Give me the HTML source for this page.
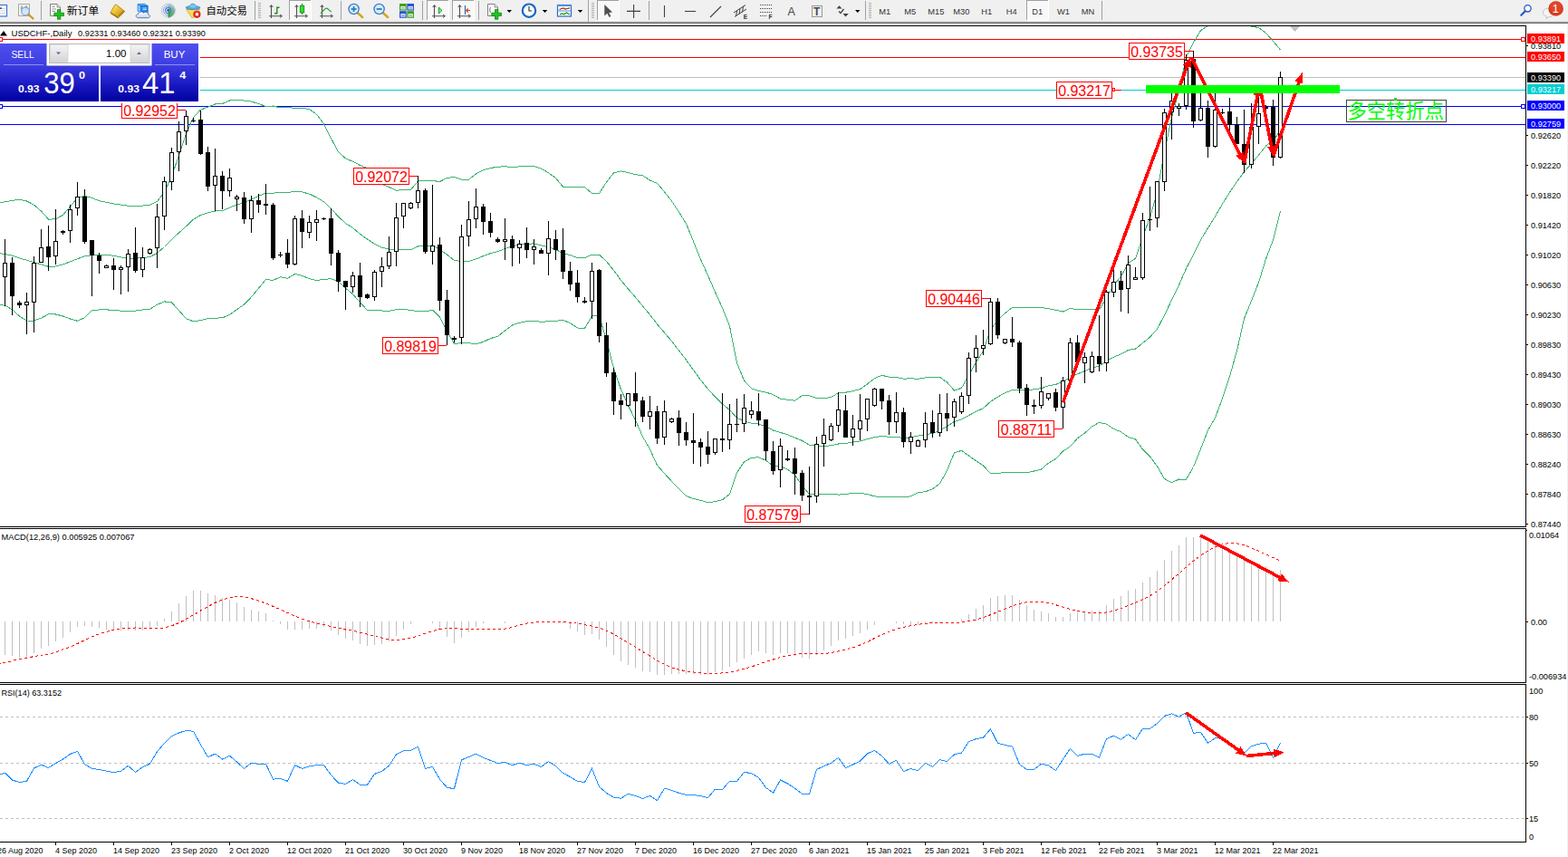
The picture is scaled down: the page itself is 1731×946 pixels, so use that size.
<!DOCTYPE html>
<html><head><meta charset="utf-8"><title>USDCHF Daily</title>
<style>html,body{margin:0;padding:0;background:#fff;}body{width:1731px;height:946px;overflow:hidden;font-family:"Liberation Sans",sans-serif;}svg{display:block}text{font-family:"Liberation Sans",sans-serif;}</style>
</head><body>
<svg width="1731" height="946" viewBox="0 0 1731 946">
<rect x="0" y="0" width="1731" height="946" fill="#ffffff"/>
<g shape-rendering="crispEdges">
<rect x="0" y="28" width="1685" height="1" fill="#000" />
<rect x="1684" y="28" width="1" height="554" fill="#000" />
<rect x="0" y="581" width="1685" height="1" fill="#000" />
<rect x="0" y="583" width="1685" height="1" fill="#000" />
<rect x="1684" y="583" width="1" height="171" fill="#000" />
<rect x="0" y="753" width="1685" height="1" fill="#000" />
<rect x="0" y="755" width="1685" height="1" fill="#000" />
<rect x="1684" y="755" width="1" height="175" fill="#000" />
<rect x="0" y="929" width="1685" height="1" fill="#000" />
<rect x="1730" y="26" width="1" height="920" fill="#f0f0f0" />
</g>
<defs><clipPath id="cm"><rect x="0" y="29" width="1684" height="552"/></clipPath><clipPath id="c2"><rect x="0" y="584" width="1684" height="169"/></clipPath><clipPath id="c3"><rect x="0" y="756" width="1684" height="173"/></clipPath></defs>
<g shape-rendering="crispEdges">
<rect x="0" y="43" width="1684" height="1" fill="#ff0000" />
<rect x="0" y="63" width="1684" height="1" fill="#ff0000" />
<rect x="0" y="85" width="1684" height="1" fill="#c0c0c0" />
<rect x="0" y="99" width="1684" height="1" fill="#00ced1" />
<rect x="0" y="117" width="1684" height="1" fill="#0000ff" />
<rect x="0" y="137" width="1684" height="1" fill="#0000ff" />
</g>
<g clip-path="url(#cm)" shape-rendering="crispEdges">
<polyline points="-2.5,223.7 5.5,222.8 13.5,221.4 21.5,220.1 29.5,222.0 37.5,226.1 45.5,233.1 53.5,242.1 61.5,241.9 69.5,237.4 77.5,228.0 85.5,218.4 93.5,216.3 101.5,218.5 109.5,221.6 117.5,223.4 125.5,224.9 133.5,226.1 141.5,227.2 149.5,227.4 157.5,227.1 165.5,226.3 173.5,222.4 181.5,212.2 189.5,194.7 197.5,171.4 205.5,147.9 213.5,129.7 221.5,121.1 229.5,118.2 237.5,115.0 245.5,114.4 253.5,111.0 261.5,110.2 269.5,111.1 277.5,112.1 285.5,114.5 293.5,117.5 301.5,117.0 309.5,119.0 317.5,118.1 325.5,119.8 333.5,119.3 341.5,120.6 349.5,126.2 357.5,136.8 365.5,152.7 373.5,167.8 381.5,174.9 389.5,178.2 397.5,182.5 405.5,185.8 413.5,196.0 421.5,203.3 429.5,206.6 437.5,210.1 445.5,209.8 453.5,209.4 461.5,200.0 469.5,199.9 477.5,199.4 485.5,200.6 493.5,196.3 501.5,195.6 509.5,198.1 517.5,198.2 525.5,192.0 533.5,187.8 541.5,185.5 549.5,184.2 557.5,183.8 565.5,184.5 573.5,183.9 581.5,183.6 589.5,183.4 597.5,186.2 605.5,190.8 613.5,196.5 621.5,206.2 629.5,206.5 637.5,206.9 645.5,206.7 653.5,213.4 661.5,213.6 669.5,201.0 677.5,190.8 685.5,188.9 693.5,190.6 701.5,192.6 709.5,193.8 717.5,199.0 725.5,202.3 733.5,211.8 741.5,221.9 749.5,234.1 757.5,246.9 765.5,266.5 773.5,286.5 781.5,304.0 789.5,322.4 797.5,340.1 805.5,359.9 813.5,400.5 821.5,420.1 829.5,428.8 837.5,431.5 845.5,433.1 853.5,435.5 861.5,440.2 869.5,441.2 877.5,442.2 885.5,436.7 893.5,436.7 901.5,439.7 909.5,440.0 917.5,438.4 925.5,433.8 933.5,433.2 941.5,431.7 949.5,429.7 957.5,423.9 965.5,417.6 973.5,414.3 981.5,416.2 989.5,416.5 997.5,418.2 1005.5,417.8 1013.5,418.3 1021.5,416.9 1029.5,416.8 1037.5,416.3 1045.5,422.1 1053.5,431.1 1061.5,428.3 1069.5,414.2 1077.5,399.8 1085.5,387.5 1093.5,363.7 1101.5,353.7 1109.5,345.8 1117.5,339.4 1125.5,339.4 1133.5,339.5 1141.5,339.7 1149.5,339.3 1157.5,340.8 1165.5,342.3 1173.5,344.0 1181.5,340.4 1189.5,341.8 1197.5,341.2 1205.5,341.7 1213.5,341.9 1221.5,328.7 1229.5,314.8 1237.5,305.2 1245.5,290.4 1253.5,285.4 1261.5,261.3 1269.5,240.3 1277.5,211.7 1285.5,167.5 1293.5,129.5 1301.5,100.3 1309.5,63.3 1317.5,47.0 1325.5,33.8 1333.5,28.3 1341.5,16.5 1349.5,10.3 1357.5,9.1 1365.5,14.1 1373.5,27.5 1381.5,29.0 1389.5,30.6 1397.5,36.4 1405.5,45.5 1413.5,54.9" fill="none" stroke="#3cb371" stroke-width="1" />
<polyline points="-2.5,279.5 5.5,280.4 13.5,282.2 21.5,284.9 29.5,287.2 37.5,289.5 45.5,291.9 53.5,294.3 61.5,294.0 69.5,291.8 77.5,288.9 85.5,285.7 93.5,282.9 101.5,281.6 109.5,281.4 117.5,281.3 125.5,282.3 133.5,284.0 141.5,285.0 149.5,285.3 157.5,284.5 165.5,283.7 173.5,279.4 181.5,272.5 189.5,264.3 197.5,257.0 205.5,249.8 213.5,242.2 221.5,237.4 229.5,234.9 237.5,233.0 245.5,232.7 253.5,229.2 261.5,225.9 269.5,223.6 277.5,220.0 285.5,216.4 293.5,213.0 301.5,213.2 309.5,212.3 317.5,212.7 325.5,211.1 333.5,211.9 341.5,214.1 349.5,217.9 357.5,222.7 365.5,230.2 373.5,239.1 381.5,246.5 389.5,251.5 397.5,258.2 405.5,264.1 413.5,269.3 421.5,273.1 429.5,275.0 437.5,275.9 445.5,275.8 453.5,275.7 461.5,272.0 469.5,271.9 477.5,270.8 485.5,275.4 493.5,281.1 501.5,287.5 509.5,288.4 517.5,288.5 525.5,285.9 533.5,282.6 541.5,279.6 549.5,277.7 557.5,274.5 565.5,271.7 573.5,270.1 581.5,269.2 589.5,268.9 597.5,270.8 605.5,272.8 613.5,275.4 621.5,279.8 629.5,281.6 637.5,284.5 645.5,284.6 653.5,281.0 661.5,281.0 669.5,288.5 677.5,298.5 685.5,309.4 693.5,318.9 701.5,328.2 709.5,337.9 717.5,347.4 725.5,357.9 733.5,367.2 741.5,376.6 749.5,386.9 757.5,397.2 765.5,408.5 773.5,419.4 781.5,429.5 789.5,438.0 797.5,445.9 805.5,452.6 813.5,461.1 821.5,465.0 829.5,467.1 837.5,468.1 845.5,470.7 853.5,475.0 861.5,477.4 869.5,479.8 877.5,483.2 885.5,486.4 893.5,491.1 901.5,492.5 909.5,492.6 917.5,491.8 925.5,490.0 933.5,489.4 941.5,488.0 949.5,487.0 957.5,484.7 965.5,482.7 973.5,481.4 981.5,482.3 989.5,482.4 997.5,483.6 1005.5,482.8 1013.5,481.1 1021.5,479.8 1029.5,478.4 1037.5,475.0 1045.5,470.7 1053.5,465.4 1061.5,462.8 1069.5,458.6 1077.5,454.3 1085.5,450.7 1093.5,443.3 1101.5,438.1 1109.5,433.6 1117.5,430.5 1125.5,430.5 1133.5,430.7 1141.5,429.8 1149.5,428.7 1157.5,425.9 1165.5,424.4 1173.5,421.1 1181.5,416.7 1189.5,412.8 1197.5,409.6 1205.5,406.2 1213.5,404.1 1221.5,398.4 1229.5,394.2 1237.5,390.9 1245.5,386.5 1253.5,385.1 1261.5,378.7 1269.5,372.1 1277.5,363.2 1285.5,348.0 1293.5,331.2 1301.5,314.6 1309.5,296.3 1317.5,281.3 1325.5,264.7 1333.5,251.8 1341.5,238.9 1349.5,225.1 1357.5,212.3 1365.5,200.6 1373.5,189.6 1381.5,180.5 1389.5,171.2 1397.5,161.1 1405.5,155.2 1413.5,144.2" fill="none" stroke="#3cb371" stroke-width="1" />
<polyline points="-2.5,336.0 5.5,337.3 13.5,341.6 21.5,349.1 29.5,354.0 37.5,354.1 45.5,351.1 53.5,346.8 61.5,347.0 69.5,349.0 77.5,352.0 85.5,354.3 93.5,350.6 101.5,342.7 109.5,342.0 117.5,341.8 125.5,342.6 133.5,343.1 141.5,343.3 149.5,343.1 157.5,341.9 165.5,341.2 173.5,336.3 181.5,332.9 189.5,333.8 197.5,342.7 205.5,351.7 213.5,354.8 221.5,353.7 229.5,351.6 237.5,351.1 245.5,350.9 253.5,347.4 261.5,341.6 269.5,336.1 277.5,327.8 285.5,318.3 293.5,308.4 301.5,309.4 309.5,305.7 317.5,307.3 325.5,302.3 333.5,304.4 341.5,307.6 349.5,309.5 357.5,308.5 365.5,307.7 373.5,310.4 381.5,318.1 389.5,324.7 397.5,333.8 405.5,342.4 413.5,342.5 421.5,343.0 429.5,343.3 437.5,341.7 445.5,341.9 453.5,342.1 461.5,344.0 469.5,343.9 477.5,342.2 485.5,350.1 493.5,365.8 501.5,379.3 509.5,378.8 517.5,378.7 525.5,379.8 533.5,377.4 541.5,373.6 549.5,371.2 557.5,365.1 565.5,358.9 573.5,356.3 581.5,354.8 589.5,354.3 597.5,355.4 605.5,354.7 613.5,354.3 621.5,353.4 629.5,356.6 637.5,362.0 645.5,362.5 653.5,348.7 661.5,348.3 669.5,376.0 677.5,406.2 685.5,430.0 693.5,447.3 701.5,463.9 709.5,482.0 717.5,495.9 725.5,513.6 733.5,522.6 741.5,531.3 749.5,539.6 757.5,547.5 765.5,550.5 773.5,552.3 781.5,554.9 789.5,553.6 797.5,551.7 805.5,545.4 813.5,521.6 821.5,509.9 829.5,505.3 837.5,504.8 845.5,508.3 853.5,514.4 861.5,514.6 869.5,518.3 877.5,524.2 885.5,536.0 893.5,545.5 901.5,545.2 909.5,545.2 917.5,545.3 925.5,546.1 933.5,545.6 941.5,544.3 949.5,544.3 957.5,545.5 965.5,547.9 973.5,548.6 981.5,548.3 989.5,548.2 997.5,549.0 1005.5,547.8 1013.5,543.9 1021.5,542.7 1029.5,539.9 1037.5,533.8 1045.5,519.4 1053.5,499.8 1061.5,497.4 1069.5,503.0 1077.5,508.8 1085.5,513.9 1093.5,522.8 1101.5,522.4 1109.5,521.5 1117.5,521.6 1125.5,521.5 1133.5,521.9 1141.5,520.0 1149.5,518.1 1157.5,511.1 1165.5,506.5 1173.5,498.1 1181.5,492.9 1189.5,483.7 1197.5,478.1 1205.5,470.7 1213.5,466.4 1221.5,468.1 1229.5,473.5 1237.5,476.7 1245.5,482.5 1253.5,484.8 1261.5,496.2 1269.5,503.9 1277.5,514.7 1285.5,528.5 1293.5,532.9 1301.5,529.0 1309.5,529.2 1317.5,515.5 1325.5,495.6 1333.5,475.2 1341.5,461.3 1349.5,439.9 1357.5,415.5 1365.5,387.1 1373.5,351.8 1381.5,332.0 1389.5,311.8 1397.5,285.8 1405.5,264.9 1413.5,233.4" fill="none" stroke="#3cb371" stroke-width="1" />
</g>
<g shape-rendering="crispEdges" clip-path="url(#cm)">
<rect x="5" y="264" width="1" height="74" fill="#000" />
<rect x="3" y="290" width="5" height="16" fill="#000" />
<rect x="4" y="291" width="3" height="14" fill="#fff" />
<rect x="13" y="284" width="1" height="64" fill="#000" />
<rect x="11" y="290" width="5" height="37" fill="#000" />
<rect x="21" y="332" width="1" height="8" fill="#000" />
<rect x="19" y="334" width="5" height="3" fill="#000" />
<rect x="29" y="323" width="1" height="46" fill="#000" />
<rect x="27" y="333" width="5" height="4" fill="#000" />
<rect x="28" y="334" width="3" height="2" fill="#fff" />
<rect x="37" y="283" width="1" height="84" fill="#000" />
<rect x="35" y="290" width="5" height="44" fill="#000" />
<rect x="36" y="291" width="3" height="42" fill="#fff" />
<rect x="45" y="253" width="1" height="37" fill="#000" />
<rect x="43" y="273" width="5" height="17" fill="#000" />
<rect x="44" y="274" width="3" height="15" fill="#fff" />
<rect x="53" y="249" width="1" height="50" fill="#000" />
<rect x="51" y="272" width="5" height="12" fill="#000" />
<rect x="61" y="231" width="1" height="61" fill="#000" />
<rect x="59" y="266" width="5" height="17" fill="#000" />
<rect x="60" y="267" width="3" height="15" fill="#fff" />
<rect x="69" y="254" width="1" height="5" fill="#000" />
<rect x="67" y="255" width="5" height="2" fill="#000" />
<rect x="77" y="226" width="1" height="42" fill="#000" />
<rect x="75" y="231" width="5" height="24" fill="#000" />
<rect x="76" y="232" width="3" height="22" fill="#fff" />
<rect x="85" y="201" width="1" height="37" fill="#000" />
<rect x="83" y="217" width="5" height="13" fill="#000" />
<rect x="84" y="218" width="3" height="11" fill="#fff" />
<rect x="93" y="209" width="1" height="60" fill="#000" />
<rect x="91" y="217" width="5" height="50" fill="#000" />
<rect x="101" y="265" width="1" height="62" fill="#000" />
<rect x="99" y="265" width="5" height="17" fill="#000" />
<rect x="109" y="279" width="1" height="23" fill="#000" />
<rect x="107" y="282" width="5" height="6" fill="#000" />
<rect x="117" y="292" width="1" height="4" fill="#000" />
<rect x="115" y="293" width="5" height="3" fill="#000" />
<rect x="116" y="294" width="3" height="1" fill="#fff" />
<rect x="125" y="285" width="1" height="35" fill="#000" />
<rect x="123" y="293" width="5" height="5" fill="#000" />
<rect x="133" y="293" width="1" height="32" fill="#000" />
<rect x="131" y="295" width="5" height="3" fill="#000" />
<rect x="132" y="296" width="3" height="1" fill="#fff" />
<rect x="141" y="275" width="1" height="47" fill="#000" />
<rect x="139" y="280" width="5" height="15" fill="#000" />
<rect x="140" y="281" width="3" height="13" fill="#fff" />
<rect x="149" y="251" width="1" height="50" fill="#000" />
<rect x="147" y="279" width="5" height="20" fill="#000" />
<rect x="157" y="273" width="1" height="33" fill="#000" />
<rect x="155" y="284" width="5" height="14" fill="#000" />
<rect x="156" y="285" width="3" height="12" fill="#fff" />
<rect x="165" y="274" width="1" height="7" fill="#000" />
<rect x="163" y="275" width="5" height="5" fill="#000" />
<rect x="164" y="276" width="3" height="3" fill="#fff" />
<rect x="173" y="225" width="1" height="71" fill="#000" />
<rect x="171" y="239" width="5" height="35" fill="#000" />
<rect x="172" y="240" width="3" height="33" fill="#fff" />
<rect x="181" y="195" width="1" height="59" fill="#000" />
<rect x="179" y="200" width="5" height="39" fill="#000" />
<rect x="180" y="201" width="3" height="37" fill="#fff" />
<rect x="189" y="163" width="1" height="47" fill="#000" />
<rect x="187" y="168" width="5" height="33" fill="#000" />
<rect x="188" y="169" width="3" height="31" fill="#fff" />
<rect x="197" y="134" width="1" height="55" fill="#000" />
<rect x="195" y="145" width="5" height="23" fill="#000" />
<rect x="196" y="146" width="3" height="21" fill="#fff" />
<rect x="205" y="122" width="1" height="38" fill="#000" />
<rect x="203" y="128" width="5" height="17" fill="#000" />
<rect x="204" y="129" width="3" height="15" fill="#fff" />
<rect x="213" y="130" width="1" height="5" fill="#000" />
<rect x="211" y="133" width="5" height="1" fill="#000" />
<rect x="221" y="122" width="1" height="49" fill="#000" />
<rect x="219" y="132" width="5" height="38" fill="#000" />
<rect x="229" y="162" width="1" height="49" fill="#000" />
<rect x="227" y="168" width="5" height="38" fill="#000" />
<rect x="237" y="164" width="1" height="69" fill="#000" />
<rect x="235" y="194" width="5" height="11" fill="#000" />
<rect x="236" y="195" width="3" height="9" fill="#fff" />
<rect x="245" y="189" width="1" height="42" fill="#000" />
<rect x="243" y="194" width="5" height="17" fill="#000" />
<rect x="253" y="186" width="1" height="31" fill="#000" />
<rect x="251" y="196" width="5" height="15" fill="#000" />
<rect x="252" y="197" width="3" height="13" fill="#fff" />
<rect x="261" y="215" width="1" height="18" fill="#000" />
<rect x="259" y="217" width="5" height="3" fill="#000" />
<rect x="260" y="218" width="3" height="1" fill="#fff" />
<rect x="269" y="212" width="1" height="35" fill="#000" />
<rect x="267" y="218" width="5" height="24" fill="#000" />
<rect x="277" y="216" width="1" height="41" fill="#000" />
<rect x="275" y="221" width="5" height="21" fill="#000" />
<rect x="276" y="222" width="3" height="19" fill="#fff" />
<rect x="285" y="214" width="1" height="21" fill="#000" />
<rect x="283" y="221" width="5" height="5" fill="#000" />
<rect x="293" y="203" width="1" height="34" fill="#000" />
<rect x="291" y="225" width="5" height="2" fill="#000" />
<rect x="301" y="224" width="1" height="63" fill="#000" />
<rect x="299" y="226" width="5" height="59" fill="#000" />
<rect x="309" y="278" width="1" height="6" fill="#000" />
<rect x="307" y="281" width="5" height="1" fill="#000" />
<rect x="317" y="264" width="1" height="32" fill="#000" />
<rect x="315" y="279" width="5" height="13" fill="#000" />
<rect x="325" y="238" width="1" height="55" fill="#000" />
<rect x="323" y="241" width="5" height="51" fill="#000" />
<rect x="324" y="242" width="3" height="49" fill="#fff" />
<rect x="333" y="232" width="1" height="42" fill="#000" />
<rect x="331" y="241" width="5" height="15" fill="#000" />
<rect x="341" y="238" width="1" height="25" fill="#000" />
<rect x="339" y="245" width="5" height="12" fill="#000" />
<rect x="340" y="246" width="3" height="10" fill="#fff" />
<rect x="349" y="232" width="1" height="34" fill="#000" />
<rect x="347" y="242" width="5" height="4" fill="#000" />
<rect x="348" y="243" width="3" height="2" fill="#fff" />
<rect x="357" y="240" width="1" height="3" fill="#000" />
<rect x="355" y="241" width="5" height="1" fill="#000" />
<rect x="365" y="230" width="1" height="63" fill="#000" />
<rect x="363" y="241" width="5" height="39" fill="#000" />
<rect x="373" y="276" width="1" height="46" fill="#000" />
<rect x="371" y="279" width="5" height="32" fill="#000" />
<rect x="381" y="310" width="1" height="32" fill="#000" />
<rect x="379" y="310" width="5" height="7" fill="#000" />
<rect x="389" y="300" width="1" height="23" fill="#000" />
<rect x="387" y="304" width="5" height="13" fill="#000" />
<rect x="388" y="305" width="3" height="11" fill="#fff" />
<rect x="397" y="290" width="1" height="49" fill="#000" />
<rect x="395" y="304" width="5" height="24" fill="#000" />
<rect x="405" y="324" width="1" height="6" fill="#000" />
<rect x="403" y="325" width="5" height="4" fill="#000" />
<rect x="413" y="298" width="1" height="34" fill="#000" />
<rect x="411" y="300" width="5" height="28" fill="#000" />
<rect x="412" y="301" width="3" height="26" fill="#fff" />
<rect x="421" y="284" width="1" height="33" fill="#000" />
<rect x="419" y="294" width="5" height="6" fill="#000" />
<rect x="420" y="295" width="3" height="4" fill="#fff" />
<rect x="429" y="261" width="1" height="36" fill="#000" />
<rect x="427" y="278" width="5" height="16" fill="#000" />
<rect x="428" y="279" width="3" height="14" fill="#fff" />
<rect x="437" y="224" width="1" height="70" fill="#000" />
<rect x="435" y="240" width="5" height="38" fill="#000" />
<rect x="436" y="241" width="3" height="36" fill="#fff" />
<rect x="445" y="224" width="1" height="28" fill="#000" />
<rect x="443" y="224" width="5" height="15" fill="#000" />
<rect x="444" y="225" width="3" height="13" fill="#fff" />
<rect x="453" y="223" width="1" height="8" fill="#000" />
<rect x="451" y="224" width="5" height="6" fill="#000" />
<rect x="452" y="225" width="3" height="4" fill="#fff" />
<rect x="461" y="194" width="1" height="36" fill="#000" />
<rect x="459" y="210" width="5" height="14" fill="#000" />
<rect x="460" y="211" width="3" height="12" fill="#fff" />
<rect x="469" y="208" width="1" height="72" fill="#000" />
<rect x="467" y="210" width="5" height="68" fill="#000" />
<rect x="477" y="204" width="1" height="88" fill="#000" />
<rect x="475" y="271" width="5" height="7" fill="#000" />
<rect x="476" y="272" width="3" height="5" fill="#fff" />
<rect x="485" y="262" width="1" height="81" fill="#000" />
<rect x="483" y="270" width="5" height="62" fill="#000" />
<rect x="493" y="320" width="1" height="61" fill="#000" />
<rect x="491" y="331" width="5" height="39" fill="#000" />
<rect x="501" y="371" width="1" height="7" fill="#000" />
<rect x="499" y="373" width="5" height="2" fill="#000" />
<rect x="509" y="248" width="1" height="132" fill="#000" />
<rect x="507" y="261" width="5" height="112" fill="#000" />
<rect x="508" y="262" width="3" height="110" fill="#fff" />
<rect x="517" y="222" width="1" height="50" fill="#000" />
<rect x="515" y="242" width="5" height="19" fill="#000" />
<rect x="516" y="243" width="3" height="17" fill="#fff" />
<rect x="525" y="208" width="1" height="44" fill="#000" />
<rect x="523" y="228" width="5" height="14" fill="#000" />
<rect x="524" y="229" width="3" height="12" fill="#fff" />
<rect x="533" y="225" width="1" height="34" fill="#000" />
<rect x="531" y="228" width="5" height="17" fill="#000" />
<rect x="541" y="235" width="1" height="27" fill="#000" />
<rect x="539" y="244" width="5" height="13" fill="#000" />
<rect x="549" y="262" width="1" height="6" fill="#000" />
<rect x="547" y="264" width="5" height="3" fill="#000" />
<rect x="557" y="241" width="1" height="46" fill="#000" />
<rect x="555" y="264" width="5" height="3" fill="#000" />
<rect x="556" y="265" width="3" height="1" fill="#fff" />
<rect x="565" y="260" width="1" height="34" fill="#000" />
<rect x="563" y="264" width="5" height="10" fill="#000" />
<rect x="573" y="265" width="1" height="26" fill="#000" />
<rect x="571" y="269" width="5" height="5" fill="#000" />
<rect x="572" y="270" width="3" height="3" fill="#fff" />
<rect x="581" y="251" width="1" height="34" fill="#000" />
<rect x="579" y="268" width="5" height="8" fill="#000" />
<rect x="589" y="264" width="1" height="28" fill="#000" />
<rect x="587" y="272" width="5" height="4" fill="#000" />
<rect x="588" y="273" width="3" height="2" fill="#fff" />
<rect x="597" y="274" width="1" height="6" fill="#000" />
<rect x="595" y="276" width="5" height="4" fill="#000" />
<rect x="605" y="244" width="1" height="60" fill="#000" />
<rect x="603" y="263" width="5" height="17" fill="#000" />
<rect x="604" y="264" width="3" height="15" fill="#fff" />
<rect x="613" y="254" width="1" height="33" fill="#000" />
<rect x="611" y="264" width="5" height="12" fill="#000" />
<rect x="621" y="252" width="1" height="56" fill="#000" />
<rect x="619" y="276" width="5" height="24" fill="#000" />
<rect x="629" y="289" width="1" height="32" fill="#000" />
<rect x="627" y="299" width="5" height="15" fill="#000" />
<rect x="637" y="298" width="1" height="36" fill="#000" />
<rect x="635" y="312" width="5" height="16" fill="#000" />
<rect x="645" y="328" width="1" height="7" fill="#000" />
<rect x="643" y="332" width="5" height="2" fill="#000" />
<rect x="653" y="290" width="1" height="62" fill="#000" />
<rect x="651" y="299" width="5" height="34" fill="#000" />
<rect x="652" y="300" width="3" height="32" fill="#fff" />
<rect x="661" y="297" width="1" height="81" fill="#000" />
<rect x="659" y="298" width="5" height="73" fill="#000" />
<rect x="669" y="356" width="1" height="60" fill="#000" />
<rect x="667" y="370" width="5" height="42" fill="#000" />
<rect x="677" y="406" width="1" height="52" fill="#000" />
<rect x="675" y="411" width="5" height="32" fill="#000" />
<rect x="685" y="435" width="1" height="28" fill="#000" />
<rect x="683" y="442" width="5" height="5" fill="#000" />
<rect x="693" y="434" width="1" height="15" fill="#000" />
<rect x="691" y="434" width="5" height="14" fill="#000" />
<rect x="692" y="435" width="3" height="12" fill="#fff" />
<rect x="701" y="411" width="1" height="60" fill="#000" />
<rect x="699" y="434" width="5" height="9" fill="#000" />
<rect x="709" y="438" width="1" height="28" fill="#000" />
<rect x="707" y="442" width="5" height="18" fill="#000" />
<rect x="717" y="437" width="1" height="37" fill="#000" />
<rect x="715" y="454" width="5" height="6" fill="#000" />
<rect x="716" y="455" width="3" height="4" fill="#fff" />
<rect x="725" y="448" width="1" height="42" fill="#000" />
<rect x="723" y="454" width="5" height="30" fill="#000" />
<rect x="733" y="442" width="1" height="49" fill="#000" />
<rect x="731" y="454" width="5" height="29" fill="#000" />
<rect x="732" y="455" width="3" height="27" fill="#fff" />
<rect x="741" y="461" width="1" height="6" fill="#000" />
<rect x="739" y="462" width="5" height="4" fill="#000" />
<rect x="740" y="463" width="3" height="2" fill="#fff" />
<rect x="749" y="453" width="1" height="39" fill="#000" />
<rect x="747" y="461" width="5" height="17" fill="#000" />
<rect x="757" y="466" width="1" height="26" fill="#000" />
<rect x="755" y="477" width="5" height="9" fill="#000" />
<rect x="765" y="456" width="1" height="56" fill="#000" />
<rect x="763" y="486" width="5" height="3" fill="#000" />
<rect x="773" y="484" width="1" height="31" fill="#000" />
<rect x="771" y="488" width="5" height="6" fill="#000" />
<rect x="781" y="476" width="1" height="36" fill="#000" />
<rect x="779" y="493" width="5" height="9" fill="#000" />
<rect x="789" y="484" width="1" height="18" fill="#000" />
<rect x="787" y="484" width="5" height="16" fill="#000" />
<rect x="788" y="485" width="3" height="14" fill="#fff" />
<rect x="797" y="434" width="1" height="65" fill="#000" />
<rect x="795" y="484" width="5" height="2" fill="#000" />
<rect x="805" y="446" width="1" height="50" fill="#000" />
<rect x="803" y="468" width="5" height="18" fill="#000" />
<rect x="804" y="469" width="3" height="16" fill="#fff" />
<rect x="813" y="440" width="1" height="37" fill="#000" />
<rect x="811" y="468" width="5" height="1" fill="#000" />
<rect x="821" y="435" width="1" height="42" fill="#000" />
<rect x="819" y="450" width="5" height="18" fill="#000" />
<rect x="820" y="451" width="3" height="16" fill="#fff" />
<rect x="829" y="443" width="1" height="19" fill="#000" />
<rect x="827" y="453" width="5" height="5" fill="#000" />
<rect x="828" y="454" width="3" height="3" fill="#fff" />
<rect x="837" y="434" width="1" height="36" fill="#000" />
<rect x="835" y="454" width="5" height="10" fill="#000" />
<rect x="845" y="463" width="1" height="45" fill="#000" />
<rect x="843" y="463" width="5" height="35" fill="#000" />
<rect x="853" y="487" width="1" height="37" fill="#000" />
<rect x="851" y="498" width="5" height="22" fill="#000" />
<rect x="861" y="484" width="1" height="54" fill="#000" />
<rect x="859" y="492" width="5" height="27" fill="#000" />
<rect x="860" y="493" width="3" height="25" fill="#fff" />
<rect x="869" y="497" width="1" height="12" fill="#000" />
<rect x="867" y="506" width="5" height="2" fill="#000" />
<rect x="877" y="494" width="1" height="52" fill="#000" />
<rect x="875" y="506" width="5" height="17" fill="#000" />
<rect x="885" y="519" width="1" height="34" fill="#000" />
<rect x="883" y="522" width="5" height="25" fill="#000" />
<rect x="893" y="515" width="1" height="53" fill="#000" />
<rect x="891" y="547" width="5" height="2" fill="#000" />
<rect x="901" y="482" width="1" height="73" fill="#000" />
<rect x="899" y="490" width="5" height="58" fill="#000" />
<rect x="900" y="491" width="3" height="56" fill="#fff" />
<rect x="909" y="462" width="1" height="53" fill="#000" />
<rect x="907" y="480" width="5" height="10" fill="#000" />
<rect x="908" y="481" width="3" height="8" fill="#fff" />
<rect x="917" y="467" width="1" height="20" fill="#000" />
<rect x="915" y="470" width="5" height="16" fill="#000" />
<rect x="916" y="471" width="3" height="14" fill="#fff" />
<rect x="925" y="433" width="1" height="44" fill="#000" />
<rect x="923" y="452" width="5" height="18" fill="#000" />
<rect x="924" y="453" width="3" height="16" fill="#fff" />
<rect x="933" y="436" width="1" height="47" fill="#000" />
<rect x="931" y="453" width="5" height="30" fill="#000" />
<rect x="941" y="458" width="1" height="34" fill="#000" />
<rect x="939" y="473" width="5" height="10" fill="#000" />
<rect x="940" y="474" width="3" height="8" fill="#fff" />
<rect x="949" y="435" width="1" height="51" fill="#000" />
<rect x="947" y="464" width="5" height="10" fill="#000" />
<rect x="948" y="465" width="3" height="8" fill="#fff" />
<rect x="957" y="440" width="1" height="36" fill="#000" />
<rect x="955" y="440" width="5" height="23" fill="#000" />
<rect x="956" y="441" width="3" height="21" fill="#fff" />
<rect x="965" y="428" width="1" height="21" fill="#000" />
<rect x="963" y="429" width="5" height="19" fill="#000" />
<rect x="964" y="430" width="3" height="17" fill="#fff" />
<rect x="973" y="429" width="1" height="23" fill="#000" />
<rect x="971" y="429" width="5" height="14" fill="#000" />
<rect x="981" y="436" width="1" height="44" fill="#000" />
<rect x="979" y="442" width="5" height="24" fill="#000" />
<rect x="989" y="433" width="1" height="45" fill="#000" />
<rect x="987" y="455" width="5" height="11" fill="#000" />
<rect x="988" y="456" width="3" height="9" fill="#fff" />
<rect x="997" y="450" width="1" height="44" fill="#000" />
<rect x="995" y="455" width="5" height="33" fill="#000" />
<rect x="1005" y="477" width="1" height="24" fill="#000" />
<rect x="1003" y="482" width="5" height="6" fill="#000" />
<rect x="1004" y="483" width="3" height="4" fill="#fff" />
<rect x="1013" y="485" width="1" height="8" fill="#000" />
<rect x="1011" y="486" width="5" height="7" fill="#000" />
<rect x="1012" y="487" width="3" height="5" fill="#fff" />
<rect x="1021" y="455" width="1" height="39" fill="#000" />
<rect x="1019" y="467" width="5" height="19" fill="#000" />
<rect x="1020" y="468" width="3" height="17" fill="#fff" />
<rect x="1029" y="453" width="1" height="30" fill="#000" />
<rect x="1027" y="466" width="5" height="12" fill="#000" />
<rect x="1037" y="435" width="1" height="47" fill="#000" />
<rect x="1035" y="456" width="5" height="22" fill="#000" />
<rect x="1036" y="457" width="3" height="20" fill="#fff" />
<rect x="1045" y="434" width="1" height="42" fill="#000" />
<rect x="1043" y="456" width="5" height="6" fill="#000" />
<rect x="1053" y="440" width="1" height="31" fill="#000" />
<rect x="1051" y="443" width="5" height="18" fill="#000" />
<rect x="1052" y="444" width="3" height="16" fill="#fff" />
<rect x="1061" y="433" width="1" height="24" fill="#000" />
<rect x="1059" y="437" width="5" height="18" fill="#000" />
<rect x="1060" y="438" width="3" height="16" fill="#fff" />
<rect x="1069" y="389" width="1" height="57" fill="#000" />
<rect x="1067" y="395" width="5" height="42" fill="#000" />
<rect x="1068" y="396" width="3" height="40" fill="#fff" />
<rect x="1077" y="370" width="1" height="41" fill="#000" />
<rect x="1075" y="384" width="5" height="11" fill="#000" />
<rect x="1076" y="385" width="3" height="9" fill="#fff" />
<rect x="1085" y="364" width="1" height="28" fill="#000" />
<rect x="1083" y="381" width="5" height="4" fill="#000" />
<rect x="1084" y="382" width="3" height="2" fill="#fff" />
<rect x="1093" y="329" width="1" height="52" fill="#000" />
<rect x="1091" y="333" width="5" height="47" fill="#000" />
<rect x="1092" y="334" width="3" height="45" fill="#fff" />
<rect x="1101" y="329" width="1" height="45" fill="#000" />
<rect x="1099" y="333" width="5" height="37" fill="#000" />
<rect x="1109" y="374" width="1" height="6" fill="#000" />
<rect x="1107" y="374" width="5" height="5" fill="#000" />
<rect x="1108" y="375" width="3" height="3" fill="#fff" />
<rect x="1117" y="350" width="1" height="33" fill="#000" />
<rect x="1115" y="374" width="5" height="4" fill="#000" />
<rect x="1125" y="376" width="1" height="58" fill="#000" />
<rect x="1123" y="378" width="5" height="51" fill="#000" />
<rect x="1133" y="424" width="1" height="35" fill="#000" />
<rect x="1131" y="428" width="5" height="19" fill="#000" />
<rect x="1141" y="441" width="1" height="16" fill="#000" />
<rect x="1139" y="447" width="5" height="2" fill="#000" />
<rect x="1149" y="416" width="1" height="35" fill="#000" />
<rect x="1147" y="432" width="5" height="16" fill="#000" />
<rect x="1148" y="433" width="3" height="14" fill="#fff" />
<rect x="1157" y="434" width="1" height="8" fill="#000" />
<rect x="1155" y="434" width="5" height="6" fill="#000" />
<rect x="1156" y="435" width="3" height="4" fill="#fff" />
<rect x="1165" y="429" width="1" height="25" fill="#000" />
<rect x="1163" y="433" width="5" height="17" fill="#000" />
<rect x="1173" y="416" width="1" height="57" fill="#000" />
<rect x="1171" y="420" width="5" height="30" fill="#000" />
<rect x="1172" y="421" width="3" height="28" fill="#fff" />
<rect x="1181" y="373" width="1" height="47" fill="#000" />
<rect x="1179" y="378" width="5" height="42" fill="#000" />
<rect x="1180" y="379" width="3" height="40" fill="#fff" />
<rect x="1189" y="370" width="1" height="31" fill="#000" />
<rect x="1187" y="378" width="5" height="22" fill="#000" />
<rect x="1197" y="389" width="1" height="34" fill="#000" />
<rect x="1195" y="394" width="5" height="7" fill="#000" />
<rect x="1196" y="395" width="3" height="5" fill="#fff" />
<rect x="1205" y="388" width="1" height="24" fill="#000" />
<rect x="1203" y="393" width="5" height="18" fill="#000" />
<rect x="1204" y="394" width="3" height="16" fill="#fff" />
<rect x="1213" y="348" width="1" height="62" fill="#000" />
<rect x="1211" y="393" width="5" height="9" fill="#000" />
<rect x="1221" y="320" width="1" height="90" fill="#000" />
<rect x="1219" y="322" width="5" height="79" fill="#000" />
<rect x="1220" y="323" width="3" height="77" fill="#fff" />
<rect x="1229" y="288" width="1" height="40" fill="#000" />
<rect x="1227" y="311" width="5" height="12" fill="#000" />
<rect x="1228" y="312" width="3" height="10" fill="#fff" />
<rect x="1237" y="299" width="1" height="45" fill="#000" />
<rect x="1235" y="310" width="5" height="10" fill="#000" />
<rect x="1245" y="282" width="1" height="64" fill="#000" />
<rect x="1243" y="292" width="5" height="27" fill="#000" />
<rect x="1244" y="293" width="3" height="25" fill="#fff" />
<rect x="1253" y="295" width="1" height="14" fill="#000" />
<rect x="1251" y="306" width="5" height="3" fill="#000" />
<rect x="1252" y="307" width="3" height="1" fill="#fff" />
<rect x="1261" y="235" width="1" height="74" fill="#000" />
<rect x="1259" y="243" width="5" height="64" fill="#000" />
<rect x="1260" y="244" width="3" height="62" fill="#fff" />
<rect x="1269" y="206" width="1" height="49" fill="#000" />
<rect x="1267" y="242" width="5" height="1" fill="#000" />
<rect x="1277" y="200" width="1" height="51" fill="#000" />
<rect x="1275" y="200" width="5" height="41" fill="#000" />
<rect x="1276" y="201" width="3" height="39" fill="#fff" />
<rect x="1285" y="120" width="1" height="91" fill="#000" />
<rect x="1283" y="124" width="5" height="77" fill="#000" />
<rect x="1284" y="125" width="3" height="75" fill="#fff" />
<rect x="1293" y="103" width="1" height="51" fill="#000" />
<rect x="1291" y="111" width="5" height="13" fill="#000" />
<rect x="1292" y="112" width="3" height="11" fill="#fff" />
<rect x="1301" y="114" width="1" height="14" fill="#000" />
<rect x="1299" y="117" width="5" height="3" fill="#000" />
<rect x="1300" y="118" width="3" height="1" fill="#fff" />
<rect x="1309" y="60" width="1" height="61" fill="#000" />
<rect x="1307" y="66" width="5" height="51" fill="#000" />
<rect x="1308" y="67" width="3" height="49" fill="#fff" />
<rect x="1317" y="56" width="1" height="85" fill="#000" />
<rect x="1315" y="65" width="5" height="69" fill="#000" />
<rect x="1325" y="103" width="1" height="31" fill="#000" />
<rect x="1323" y="119" width="5" height="14" fill="#000" />
<rect x="1324" y="120" width="3" height="12" fill="#fff" />
<rect x="1333" y="111" width="1" height="63" fill="#000" />
<rect x="1331" y="119" width="5" height="43" fill="#000" />
<rect x="1341" y="103" width="1" height="60" fill="#000" />
<rect x="1339" y="121" width="5" height="41" fill="#000" />
<rect x="1340" y="122" width="3" height="39" fill="#fff" />
<rect x="1349" y="120" width="1" height="6" fill="#000" />
<rect x="1347" y="124" width="5" height="1" fill="#000" />
<rect x="1357" y="108" width="1" height="36" fill="#000" />
<rect x="1355" y="123" width="5" height="15" fill="#000" />
<rect x="1365" y="129" width="1" height="30" fill="#000" />
<rect x="1363" y="137" width="5" height="22" fill="#000" />
<rect x="1373" y="121" width="1" height="70" fill="#000" />
<rect x="1371" y="159" width="5" height="23" fill="#000" />
<rect x="1381" y="114" width="1" height="72" fill="#000" />
<rect x="1379" y="140" width="5" height="42" fill="#000" />
<rect x="1380" y="141" width="3" height="40" fill="#fff" />
<rect x="1389" y="103" width="1" height="56" fill="#000" />
<rect x="1387" y="125" width="5" height="15" fill="#000" />
<rect x="1388" y="126" width="3" height="13" fill="#fff" />
<rect x="1397" y="116" width="1" height="5" fill="#000" />
<rect x="1395" y="118" width="5" height="2" fill="#000" />
<rect x="1405" y="110" width="1" height="73" fill="#000" />
<rect x="1403" y="118" width="5" height="56" fill="#000" />
<rect x="1413" y="79" width="1" height="96" fill="#000" />
<rect x="1411" y="85" width="5" height="89" fill="#000" />
<rect x="1412" y="86" width="3" height="87" fill="#fff" />
</g>
<g clip-path="url(#cm)" shape-rendering="crispEdges">
<line x1="1173.4" y1="444.3" x2="1311.1" y2="71.4" stroke="#ff0000" stroke-width="3.6"/>
<polygon points="1314.4,62.5 1314.7,74.9 1306.1,71.7" fill="#ff0000"/>
<line x1="1315.5" y1="64.0" x2="1369.3" y2="171.5" stroke="#ff0000" stroke-width="3.6"/>
<polygon points="1373.6,180.0 1364.3,171.8 1372.6,167.7" fill="#ff0000"/>
<line x1="1373.6" y1="180.0" x2="1388.7" y2="103.3" stroke="#ff0000" stroke-width="3.6"/>
<polygon points="1390.5,94.0 1392.8,106.2 1383.8,104.4" fill="#ff0000"/>
<line x1="1390.5" y1="94.0" x2="1403.9" y2="163.2" stroke="#ff0000" stroke-width="3.6"/>
<polygon points="1405.7,172.5 1399.0,162.1 1408.0,160.3" fill="#ff0000"/>
<line x1="1405.7" y1="172.5" x2="1434.7" y2="89.0" stroke="#ff0000" stroke-width="3.6"/>
<polygon points="1437.8,80.0 1438.4,92.4 1429.7,89.4" fill="#ff0000"/>
</g>
<rect x="1265" y="94" width="214" height="9" fill="#00ff00" shape-rendering="crispEdges"/>
<rect x="195" y="121" width="10" height="1" fill="#ff0000" shape-rendering="crispEdges"/>
<rect x="134.5" y="112.5" width="61" height="18" fill="#fff" stroke="#ff0000" stroke-width="1" shape-rendering="crispEdges"/>
<text transform="translate(165,128) scale(0.949,1)" font-size="16.8" fill="#ff0000" text-anchor="middle" font-weight="normal" >0.92952</text>
<rect x="451" y="194" width="10" height="1" fill="#ff0000" shape-rendering="crispEdges"/>
<rect x="390.5" y="185.5" width="61" height="18" fill="#fff" stroke="#ff0000" stroke-width="1" shape-rendering="crispEdges"/>
<text transform="translate(421,201) scale(0.949,1)" font-size="16.8" fill="#ff0000" text-anchor="middle" font-weight="normal" >0.92072</text>
<rect x="483" y="381" width="10" height="1" fill="#ff0000" shape-rendering="crispEdges"/>
<rect x="422.5" y="372.5" width="61" height="18" fill="#fff" stroke="#ff0000" stroke-width="1" shape-rendering="crispEdges"/>
<text transform="translate(453,388) scale(0.949,1)" font-size="16.8" fill="#ff0000" text-anchor="middle" font-weight="normal" >0.89819</text>
<rect x="883" y="567" width="10" height="1" fill="#ff0000" shape-rendering="crispEdges"/>
<rect x="822.5" y="558.5" width="61" height="18" fill="#fff" stroke="#ff0000" stroke-width="1" shape-rendering="crispEdges"/>
<text transform="translate(853,574) scale(0.949,1)" font-size="16.8" fill="#ff0000" text-anchor="middle" font-weight="normal" >0.87579</text>
<rect x="1083" y="329" width="10" height="1" fill="#ff0000" shape-rendering="crispEdges"/>
<rect x="1022.5" y="320.5" width="61" height="18" fill="#fff" stroke="#ff0000" stroke-width="1" shape-rendering="crispEdges"/>
<text transform="translate(1053,336) scale(0.949,1)" font-size="16.8" fill="#ff0000" text-anchor="middle" font-weight="normal" >0.90446</text>
<rect x="1163" y="473" width="10" height="1" fill="#ff0000" shape-rendering="crispEdges"/>
<rect x="1102.5" y="464.5" width="61" height="18" fill="#fff" stroke="#ff0000" stroke-width="1" shape-rendering="crispEdges"/>
<text transform="translate(1133,480) scale(0.949,1)" font-size="16.8" fill="#ff0000" text-anchor="middle" font-weight="normal" >0.88711</text>
<rect x="1307" y="56" width="10" height="1" fill="#ff0000" shape-rendering="crispEdges"/>
<rect x="1246.5" y="47.5" width="61" height="18" fill="#fff" stroke="#ff0000" stroke-width="1" shape-rendering="crispEdges"/>
<text transform="translate(1277,63) scale(0.949,1)" font-size="16.8" fill="#ff0000" text-anchor="middle" font-weight="normal" >0.93735</text>
<rect x="1166.5" y="90.5" width="61" height="18" fill="#fff" stroke="#ff0000" stroke-width="1" shape-rendering="crispEdges"/>
<text transform="translate(1197,106) scale(0.949,1)" font-size="16.8" fill="#ff0000" text-anchor="middle" font-weight="normal" >0.93217</text>
<rect x="1228" y="99" width="10" height="1" fill="#ff0000" shape-rendering="crispEdges"/>
<rect x="1228.5" y="97.5" width="2" height="3" fill="#fff" stroke="#ff0000" stroke-width="1"/>
<g shape-rendering="crispEdges">
<rect x="1679" y="41" width="5" height="5" fill="#ff0000" />
<rect x="1680" y="42" width="3" height="3" fill="#fff" />
<rect x="-2" y="41" width="5" height="5" fill="#ff0000" />
<rect x="-1" y="42" width="3" height="3" fill="#fff" />
<rect x="1679" y="115" width="5" height="5" fill="#0000ff" />
<rect x="1680" y="116" width="3" height="3" fill="#fff" />
<rect x="-2" y="115" width="5" height="5" fill="#0000ff" />
<rect x="-1" y="116" width="3" height="3" fill="#fff" />
</g>
<rect x="1486.5" y="110.5" width="110" height="24" fill="none" stroke="#404040" stroke-width="1"/>
<text x="1487.5" y="129.5" font-size="21.3" fill="#00ff00" textLength="106.5" lengthAdjust="spacingAndGlyphs" style="font-family:'Liberation Sans','Noto Sans CJK SC',sans-serif">多空转折点</text>
<rect x="1539.5" y="108.5" width="2" height="2" fill="#ff00ff" stroke="#00ff00" stroke-width="1"/>
<polygon points="1424,29 1435,29 1429.5,35" fill="#c0c0c0"/>
<g font-family="Liberation Sans, sans-serif">
<rect x="1685" y="50" width="2" height="1" fill="#000" shape-rendering="crispEdges"/>
<text transform="translate(1690,54) scale(0.948,1)" font-size="9.7" fill="#000" text-anchor="start" font-weight="normal" >0.93810</text>
<rect x="1685" y="149" width="2" height="1" fill="#000" shape-rendering="crispEdges"/>
<text transform="translate(1690,153) scale(0.948,1)" font-size="9.7" fill="#000" text-anchor="start" font-weight="normal" >0.92620</text>
<rect x="1685" y="182" width="2" height="1" fill="#000" shape-rendering="crispEdges"/>
<text transform="translate(1690,186) scale(0.948,1)" font-size="9.7" fill="#000" text-anchor="start" font-weight="normal" >0.92220</text>
<rect x="1685" y="215" width="2" height="1" fill="#000" shape-rendering="crispEdges"/>
<text transform="translate(1690,219) scale(0.948,1)" font-size="9.7" fill="#000" text-anchor="start" font-weight="normal" >0.91820</text>
<rect x="1685" y="248" width="2" height="1" fill="#000" shape-rendering="crispEdges"/>
<text transform="translate(1690,252) scale(0.948,1)" font-size="9.7" fill="#000" text-anchor="start" font-weight="normal" >0.91420</text>
<rect x="1685" y="281" width="2" height="1" fill="#000" shape-rendering="crispEdges"/>
<text transform="translate(1690,285) scale(0.948,1)" font-size="9.7" fill="#000" text-anchor="start" font-weight="normal" >0.91020</text>
<rect x="1685" y="314" width="2" height="1" fill="#000" shape-rendering="crispEdges"/>
<text transform="translate(1690,318) scale(0.948,1)" font-size="9.7" fill="#000" text-anchor="start" font-weight="normal" >0.90630</text>
<rect x="1685" y="347" width="2" height="1" fill="#000" shape-rendering="crispEdges"/>
<text transform="translate(1690,351) scale(0.948,1)" font-size="9.7" fill="#000" text-anchor="start" font-weight="normal" >0.90230</text>
<rect x="1685" y="380" width="2" height="1" fill="#000" shape-rendering="crispEdges"/>
<text transform="translate(1690,384) scale(0.948,1)" font-size="9.7" fill="#000" text-anchor="start" font-weight="normal" >0.89830</text>
<rect x="1685" y="413" width="2" height="1" fill="#000" shape-rendering="crispEdges"/>
<text transform="translate(1690,417) scale(0.948,1)" font-size="9.7" fill="#000" text-anchor="start" font-weight="normal" >0.89430</text>
<rect x="1685" y="446" width="2" height="1" fill="#000" shape-rendering="crispEdges"/>
<text transform="translate(1690,450) scale(0.948,1)" font-size="9.7" fill="#000" text-anchor="start" font-weight="normal" >0.89030</text>
<rect x="1685" y="479" width="2" height="1" fill="#000" shape-rendering="crispEdges"/>
<text transform="translate(1690,483) scale(0.948,1)" font-size="9.7" fill="#000" text-anchor="start" font-weight="normal" >0.88630</text>
<rect x="1685" y="512" width="2" height="1" fill="#000" shape-rendering="crispEdges"/>
<text transform="translate(1690,516) scale(0.948,1)" font-size="9.7" fill="#000" text-anchor="start" font-weight="normal" >0.88240</text>
<rect x="1685" y="545" width="2" height="1" fill="#000" shape-rendering="crispEdges"/>
<text transform="translate(1690,549) scale(0.948,1)" font-size="9.7" fill="#000" text-anchor="start" font-weight="normal" >0.87840</text>
<rect x="1685" y="578" width="2" height="1" fill="#000" shape-rendering="crispEdges"/>
<text transform="translate(1690,582) scale(0.948,1)" font-size="9.7" fill="#000" text-anchor="start" font-weight="normal" >0.87440</text>
<rect x="1686" y="37" width="41" height="11" fill="#ff0000" shape-rendering="crispEdges"/>
<text transform="translate(1690,46) scale(0.948,1)" font-size="9.7" fill="#fff" text-anchor="start" font-weight="normal" >0.93891</text>
<rect x="1686" y="57" width="41" height="11" fill="#ff0000" shape-rendering="crispEdges"/>
<text transform="translate(1690,66) scale(0.948,1)" font-size="9.7" fill="#fff" text-anchor="start" font-weight="normal" >0.93650</text>
<rect x="1686" y="80" width="41" height="11" fill="#000000" shape-rendering="crispEdges"/>
<text transform="translate(1690,89) scale(0.948,1)" font-size="9.7" fill="#fff" text-anchor="start" font-weight="normal" >0.93390</text>
<rect x="1686" y="93" width="41" height="11" fill="#00ced1" shape-rendering="crispEdges"/>
<text transform="translate(1690,102) scale(0.948,1)" font-size="9.7" fill="#fff" text-anchor="start" font-weight="normal" >0.93217</text>
<rect x="1686" y="111" width="41" height="11" fill="#0000ff" shape-rendering="crispEdges"/>
<text transform="translate(1690,120) scale(0.948,1)" font-size="9.7" fill="#fff" text-anchor="start" font-weight="normal" >0.93000</text>
<rect x="1686" y="131" width="41" height="11" fill="#0000ff" shape-rendering="crispEdges"/>
<text transform="translate(1690,140) scale(0.948,1)" font-size="9.7" fill="#fff" text-anchor="start" font-weight="normal" >0.92759</text>
<rect x="1685" y="585" width="1" height="1" fill="#000" />
<text transform="translate(1688,594) scale(0.948,1)" font-size="9.7" fill="#000" text-anchor="start" font-weight="normal" >0.01064</text>
<rect x="1685" y="686" width="2" height="1" fill="#000" />
<text transform="translate(1690,690) scale(0.948,1)" font-size="9.7" fill="#000" text-anchor="start" font-weight="normal" >0.00</text>
<text transform="translate(1688,750) scale(0.948,1)" font-size="9.7" fill="#000" text-anchor="start" font-weight="normal" >-0.006934</text>
<text transform="translate(1688,766) scale(0.948,1)" font-size="9.7" fill="#000" text-anchor="start" font-weight="normal" >100</text>
<rect x="1685" y="791" width="2" height="1" fill="#000" />
<text transform="translate(1688,795) scale(0.948,1)" font-size="9.7" fill="#000" text-anchor="start" font-weight="normal" >80</text>
<rect x="1685" y="842" width="2" height="1" fill="#000" />
<text transform="translate(1688,846) scale(0.948,1)" font-size="9.7" fill="#000" text-anchor="start" font-weight="normal" >50</text>
<rect x="1685" y="903" width="2" height="1" fill="#000" />
<text transform="translate(1688,907) scale(0.948,1)" font-size="9.7" fill="#000" text-anchor="start" font-weight="normal" >15</text>
<text transform="translate(1688,926.5) scale(0.948,1)" font-size="9.7" fill="#000" text-anchor="start" font-weight="normal" >0</text>
<text transform="translate(12.5,40) scale(0.987,1)" font-size="9.7" fill="#000" text-anchor="start" font-weight="normal" >USDCHF-,Daily</text>
<text transform="translate(86.1,40) scale(0.95,1)" font-size="9.7" fill="#000" text-anchor="start" font-weight="normal" >0.92331 0.93460 0.92321 0.93390</text>
<polygon points="0,39.5 4,34 8,39.5" fill="#000"/>
<text transform="translate(1.5,596) scale(0.958,1)" font-size="9.7" fill="#000" text-anchor="start" font-weight="normal" >MACD(12,26,9) 0.005925 0.007067</text>
<text transform="translate(1.5,768) scale(0.936,1)" font-size="9.7" fill="#000" text-anchor="start" font-weight="normal" >RSI(14) 63.3152</text>
<rect x="-3" y="930" width="1" height="3" fill="#000" shape-rendering="crispEdges"/>
<text transform="translate(-3,942) scale(0.928,1)" font-size="9.7" fill="#000" text-anchor="start" font-weight="normal" >26 Aug 2020</text>
<rect x="61" y="930" width="1" height="3" fill="#000" shape-rendering="crispEdges"/>
<text transform="translate(61,942) scale(0.928,1)" font-size="9.7" fill="#000" text-anchor="start" font-weight="normal" >4 Sep 2020</text>
<rect x="125" y="930" width="1" height="3" fill="#000" shape-rendering="crispEdges"/>
<text transform="translate(125,942) scale(0.928,1)" font-size="9.7" fill="#000" text-anchor="start" font-weight="normal" >14 Sep 2020</text>
<rect x="189" y="930" width="1" height="3" fill="#000" shape-rendering="crispEdges"/>
<text transform="translate(189,942) scale(0.928,1)" font-size="9.7" fill="#000" text-anchor="start" font-weight="normal" >23 Sep 2020</text>
<rect x="253" y="930" width="1" height="3" fill="#000" shape-rendering="crispEdges"/>
<text transform="translate(253,942) scale(0.928,1)" font-size="9.7" fill="#000" text-anchor="start" font-weight="normal" >2 Oct 2020</text>
<rect x="317" y="930" width="1" height="3" fill="#000" shape-rendering="crispEdges"/>
<text transform="translate(317,942) scale(0.928,1)" font-size="9.7" fill="#000" text-anchor="start" font-weight="normal" >12 Oct 2020</text>
<rect x="381" y="930" width="1" height="3" fill="#000" shape-rendering="crispEdges"/>
<text transform="translate(381,942) scale(0.928,1)" font-size="9.7" fill="#000" text-anchor="start" font-weight="normal" >21 Oct 2020</text>
<rect x="445" y="930" width="1" height="3" fill="#000" shape-rendering="crispEdges"/>
<text transform="translate(445,942) scale(0.928,1)" font-size="9.7" fill="#000" text-anchor="start" font-weight="normal" >30 Oct 2020</text>
<rect x="509" y="930" width="1" height="3" fill="#000" shape-rendering="crispEdges"/>
<text transform="translate(509,942) scale(0.928,1)" font-size="9.7" fill="#000" text-anchor="start" font-weight="normal" >9 Nov 2020</text>
<rect x="573" y="930" width="1" height="3" fill="#000" shape-rendering="crispEdges"/>
<text transform="translate(573,942) scale(0.928,1)" font-size="9.7" fill="#000" text-anchor="start" font-weight="normal" >18 Nov 2020</text>
<rect x="637" y="930" width="1" height="3" fill="#000" shape-rendering="crispEdges"/>
<text transform="translate(637,942) scale(0.928,1)" font-size="9.7" fill="#000" text-anchor="start" font-weight="normal" >27 Nov 2020</text>
<rect x="701" y="930" width="1" height="3" fill="#000" shape-rendering="crispEdges"/>
<text transform="translate(701,942) scale(0.928,1)" font-size="9.7" fill="#000" text-anchor="start" font-weight="normal" >7 Dec 2020</text>
<rect x="765" y="930" width="1" height="3" fill="#000" shape-rendering="crispEdges"/>
<text transform="translate(765,942) scale(0.928,1)" font-size="9.7" fill="#000" text-anchor="start" font-weight="normal" >16 Dec 2020</text>
<rect x="829" y="930" width="1" height="3" fill="#000" shape-rendering="crispEdges"/>
<text transform="translate(829,942) scale(0.928,1)" font-size="9.7" fill="#000" text-anchor="start" font-weight="normal" >27 Dec 2020</text>
<rect x="893" y="930" width="1" height="3" fill="#000" shape-rendering="crispEdges"/>
<text transform="translate(893,942) scale(0.928,1)" font-size="9.7" fill="#000" text-anchor="start" font-weight="normal" >6 Jan 2021</text>
<rect x="957" y="930" width="1" height="3" fill="#000" shape-rendering="crispEdges"/>
<text transform="translate(957,942) scale(0.928,1)" font-size="9.7" fill="#000" text-anchor="start" font-weight="normal" >15 Jan 2021</text>
<rect x="1021" y="930" width="1" height="3" fill="#000" shape-rendering="crispEdges"/>
<text transform="translate(1021,942) scale(0.928,1)" font-size="9.7" fill="#000" text-anchor="start" font-weight="normal" >25 Jan 2021</text>
<rect x="1085" y="930" width="1" height="3" fill="#000" shape-rendering="crispEdges"/>
<text transform="translate(1085,942) scale(0.928,1)" font-size="9.7" fill="#000" text-anchor="start" font-weight="normal" >3 Feb 2021</text>
<rect x="1149" y="930" width="1" height="3" fill="#000" shape-rendering="crispEdges"/>
<text transform="translate(1149,942) scale(0.928,1)" font-size="9.7" fill="#000" text-anchor="start" font-weight="normal" >12 Feb 2021</text>
<rect x="1213" y="930" width="1" height="3" fill="#000" shape-rendering="crispEdges"/>
<text transform="translate(1213,942) scale(0.928,1)" font-size="9.7" fill="#000" text-anchor="start" font-weight="normal" >22 Feb 2021</text>
<rect x="1277" y="930" width="1" height="3" fill="#000" shape-rendering="crispEdges"/>
<text transform="translate(1277,942) scale(0.928,1)" font-size="9.7" fill="#000" text-anchor="start" font-weight="normal" >3 Mar 2021</text>
<rect x="1341" y="930" width="1" height="3" fill="#000" shape-rendering="crispEdges"/>
<text transform="translate(1341,942) scale(0.928,1)" font-size="9.7" fill="#000" text-anchor="start" font-weight="normal" >12 Mar 2021</text>
<rect x="1405" y="930" width="1" height="3" fill="#000" shape-rendering="crispEdges"/>
<text transform="translate(1405,942) scale(0.928,1)" font-size="9.7" fill="#000" text-anchor="start" font-weight="normal" >22 Mar 2021</text>
</g>
<g clip-path="url(#c2)" shape-rendering="crispEdges">
<rect x="5" y="686" width="1" height="37" fill="#c0c0c0" />
<rect x="13" y="686" width="1" height="38" fill="#c0c0c0" />
<rect x="21" y="686" width="1" height="40" fill="#c0c0c0" />
<rect x="29" y="686" width="1" height="40" fill="#c0c0c0" />
<rect x="37" y="686" width="1" height="35" fill="#c0c0c0" />
<rect x="45" y="686" width="1" height="30" fill="#c0c0c0" />
<rect x="53" y="686" width="1" height="27" fill="#c0c0c0" />
<rect x="61" y="686" width="1" height="22" fill="#c0c0c0" />
<rect x="69" y="686" width="1" height="18" fill="#c0c0c0" />
<rect x="77" y="686" width="1" height="12" fill="#c0c0c0" />
<rect x="85" y="686" width="1" height="6" fill="#c0c0c0" />
<rect x="93" y="686" width="1" height="5" fill="#c0c0c0" />
<rect x="101" y="686" width="1" height="6" fill="#c0c0c0" />
<rect x="109" y="686" width="1" height="7" fill="#c0c0c0" />
<rect x="117" y="686" width="1" height="9" fill="#c0c0c0" />
<rect x="125" y="686" width="1" height="9" fill="#c0c0c0" />
<rect x="133" y="686" width="1" height="10" fill="#c0c0c0" />
<rect x="141" y="686" width="1" height="10" fill="#c0c0c0" />
<rect x="149" y="686" width="1" height="10" fill="#c0c0c0" />
<rect x="157" y="686" width="1" height="10" fill="#c0c0c0" />
<rect x="165" y="686" width="1" height="9" fill="#c0c0c0" />
<rect x="173" y="686" width="1" height="5" fill="#c0c0c0" />
<rect x="181" y="683" width="1" height="3" fill="#c0c0c0" />
<rect x="189" y="675" width="1" height="11" fill="#c0c0c0" />
<rect x="197" y="666" width="1" height="20" fill="#c0c0c0" />
<rect x="205" y="658" width="1" height="28" fill="#c0c0c0" />
<rect x="213" y="652" width="1" height="34" fill="#c0c0c0" />
<rect x="221" y="652" width="1" height="34" fill="#c0c0c0" />
<rect x="229" y="655" width="1" height="31" fill="#c0c0c0" />
<rect x="237" y="657" width="1" height="29" fill="#c0c0c0" />
<rect x="245" y="660" width="1" height="26" fill="#c0c0c0" />
<rect x="253" y="662" width="1" height="24" fill="#c0c0c0" />
<rect x="261" y="665" width="1" height="21" fill="#c0c0c0" />
<rect x="269" y="670" width="1" height="16" fill="#c0c0c0" />
<rect x="277" y="673" width="1" height="13" fill="#c0c0c0" />
<rect x="285" y="675" width="1" height="11" fill="#c0c0c0" />
<rect x="293" y="677" width="1" height="9" fill="#c0c0c0" />
<rect x="301" y="685" width="1" height="1" fill="#c0c0c0" />
<rect x="309" y="686" width="1" height="3" fill="#c0c0c0" />
<rect x="317" y="686" width="1" height="9" fill="#c0c0c0" />
<rect x="325" y="686" width="1" height="9" fill="#c0c0c0" />
<rect x="333" y="686" width="1" height="9" fill="#c0c0c0" />
<rect x="341" y="686" width="1" height="8" fill="#c0c0c0" />
<rect x="349" y="686" width="1" height="8" fill="#c0c0c0" />
<rect x="357" y="686" width="1" height="6" fill="#c0c0c0" />
<rect x="365" y="686" width="1" height="10" fill="#c0c0c0" />
<rect x="373" y="686" width="1" height="15" fill="#c0c0c0" />
<rect x="381" y="686" width="1" height="19" fill="#c0c0c0" />
<rect x="389" y="686" width="1" height="21" fill="#c0c0c0" />
<rect x="397" y="686" width="1" height="25" fill="#c0c0c0" />
<rect x="405" y="686" width="1" height="27" fill="#c0c0c0" />
<rect x="413" y="686" width="1" height="26" fill="#c0c0c0" />
<rect x="421" y="686" width="1" height="25" fill="#c0c0c0" />
<rect x="429" y="686" width="1" height="22" fill="#c0c0c0" />
<rect x="437" y="686" width="1" height="16" fill="#c0c0c0" />
<rect x="445" y="686" width="1" height="9" fill="#c0c0c0" />
<rect x="453" y="686" width="1" height="3" fill="#c0c0c0" />
<rect x="477" y="686" width="1" height="2" fill="#c0c0c0" />
<rect x="485" y="686" width="1" height="8" fill="#c0c0c0" />
<rect x="493" y="686" width="1" height="17" fill="#c0c0c0" />
<rect x="501" y="686" width="1" height="24" fill="#c0c0c0" />
<rect x="509" y="686" width="1" height="18" fill="#c0c0c0" />
<rect x="517" y="686" width="1" height="12" fill="#c0c0c0" />
<rect x="525" y="686" width="1" height="6" fill="#c0c0c0" />
<rect x="533" y="686" width="1" height="2" fill="#c0c0c0" />
<rect x="557" y="686" width="1" height="2" fill="#c0c0c0" />
<rect x="621" y="686" width="1" height="2" fill="#c0c0c0" />
<rect x="629" y="686" width="1" height="8" fill="#c0c0c0" />
<rect x="637" y="686" width="1" height="11" fill="#c0c0c0" />
<rect x="645" y="686" width="1" height="15" fill="#c0c0c0" />
<rect x="653" y="686" width="1" height="14" fill="#c0c0c0" />
<rect x="661" y="686" width="1" height="20" fill="#c0c0c0" />
<rect x="669" y="686" width="1" height="28" fill="#c0c0c0" />
<rect x="677" y="686" width="1" height="37" fill="#c0c0c0" />
<rect x="685" y="686" width="1" height="44" fill="#c0c0c0" />
<rect x="693" y="686" width="1" height="48" fill="#c0c0c0" />
<rect x="701" y="686" width="1" height="51" fill="#c0c0c0" />
<rect x="709" y="686" width="1" height="55" fill="#c0c0c0" />
<rect x="717" y="686" width="1" height="56" fill="#c0c0c0" />
<rect x="725" y="686" width="1" height="59" fill="#c0c0c0" />
<rect x="733" y="686" width="1" height="59" fill="#c0c0c0" />
<rect x="741" y="686" width="1" height="58" fill="#c0c0c0" />
<rect x="749" y="686" width="1" height="58" fill="#c0c0c0" />
<rect x="757" y="686" width="1" height="58" fill="#c0c0c0" />
<rect x="765" y="686" width="1" height="58" fill="#c0c0c0" />
<rect x="773" y="686" width="1" height="59" fill="#c0c0c0" />
<rect x="781" y="686" width="1" height="59" fill="#c0c0c0" />
<rect x="789" y="686" width="1" height="56" fill="#c0c0c0" />
<rect x="797" y="686" width="1" height="54" fill="#c0c0c0" />
<rect x="805" y="686" width="1" height="50" fill="#c0c0c0" />
<rect x="813" y="686" width="1" height="45" fill="#c0c0c0" />
<rect x="821" y="686" width="1" height="41" fill="#c0c0c0" />
<rect x="829" y="686" width="1" height="37" fill="#c0c0c0" />
<rect x="837" y="686" width="1" height="33" fill="#c0c0c0" />
<rect x="845" y="686" width="1" height="35" fill="#c0c0c0" />
<rect x="853" y="686" width="1" height="37" fill="#c0c0c0" />
<rect x="861" y="686" width="1" height="35" fill="#c0c0c0" />
<rect x="869" y="686" width="1" height="35" fill="#c0c0c0" />
<rect x="877" y="686" width="1" height="38" fill="#c0c0c0" />
<rect x="885" y="686" width="1" height="40" fill="#c0c0c0" />
<rect x="893" y="686" width="1" height="41" fill="#c0c0c0" />
<rect x="901" y="686" width="1" height="37" fill="#c0c0c0" />
<rect x="909" y="686" width="1" height="32" fill="#c0c0c0" />
<rect x="917" y="686" width="1" height="27" fill="#c0c0c0" />
<rect x="925" y="686" width="1" height="21" fill="#c0c0c0" />
<rect x="933" y="686" width="1" height="19" fill="#c0c0c0" />
<rect x="941" y="686" width="1" height="16" fill="#c0c0c0" />
<rect x="949" y="686" width="1" height="13" fill="#c0c0c0" />
<rect x="957" y="686" width="1" height="9" fill="#c0c0c0" />
<rect x="965" y="686" width="1" height="4" fill="#c0c0c0" />
<rect x="989" y="686" width="1" height="2" fill="#c0c0c0" />
<rect x="997" y="686" width="1" height="3" fill="#c0c0c0" />
<rect x="1005" y="686" width="1" height="4" fill="#c0c0c0" />
<rect x="1013" y="686" width="1" height="4" fill="#c0c0c0" />
<rect x="1021" y="686" width="1" height="3" fill="#c0c0c0" />
<rect x="1029" y="686" width="1" height="2" fill="#c0c0c0" />
<rect x="1037" y="686" width="1" height="2" fill="#c0c0c0" />
<rect x="1061" y="683" width="1" height="3" fill="#c0c0c0" />
<rect x="1069" y="678" width="1" height="8" fill="#c0c0c0" />
<rect x="1077" y="672" width="1" height="14" fill="#c0c0c0" />
<rect x="1085" y="668" width="1" height="18" fill="#c0c0c0" />
<rect x="1093" y="660" width="1" height="26" fill="#c0c0c0" />
<rect x="1101" y="658" width="1" height="28" fill="#c0c0c0" />
<rect x="1109" y="657" width="1" height="29" fill="#c0c0c0" />
<rect x="1117" y="657" width="1" height="29" fill="#c0c0c0" />
<rect x="1125" y="662" width="1" height="24" fill="#c0c0c0" />
<rect x="1133" y="668" width="1" height="18" fill="#c0c0c0" />
<rect x="1141" y="673" width="1" height="13" fill="#c0c0c0" />
<rect x="1149" y="675" width="1" height="11" fill="#c0c0c0" />
<rect x="1157" y="677" width="1" height="9" fill="#c0c0c0" />
<rect x="1165" y="681" width="1" height="5" fill="#c0c0c0" />
<rect x="1173" y="681" width="1" height="5" fill="#c0c0c0" />
<rect x="1181" y="677" width="1" height="9" fill="#c0c0c0" />
<rect x="1189" y="676" width="1" height="10" fill="#c0c0c0" />
<rect x="1197" y="675" width="1" height="11" fill="#c0c0c0" />
<rect x="1205" y="674" width="1" height="12" fill="#c0c0c0" />
<rect x="1213" y="674" width="1" height="12" fill="#c0c0c0" />
<rect x="1221" y="668" width="1" height="18" fill="#c0c0c0" />
<rect x="1229" y="661" width="1" height="25" fill="#c0c0c0" />
<rect x="1237" y="658" width="1" height="28" fill="#c0c0c0" />
<rect x="1245" y="652" width="1" height="34" fill="#c0c0c0" />
<rect x="1253" y="650" width="1" height="36" fill="#c0c0c0" />
<rect x="1261" y="643" width="1" height="43" fill="#c0c0c0" />
<rect x="1269" y="637" width="1" height="49" fill="#c0c0c0" />
<rect x="1277" y="630" width="1" height="56" fill="#c0c0c0" />
<rect x="1285" y="618" width="1" height="68" fill="#c0c0c0" />
<rect x="1293" y="608" width="1" height="78" fill="#c0c0c0" />
<rect x="1301" y="602" width="1" height="84" fill="#c0c0c0" />
<rect x="1309" y="593" width="1" height="93" fill="#c0c0c0" />
<rect x="1317" y="593" width="1" height="93" fill="#c0c0c0" />
<rect x="1325" y="593" width="1" height="93" fill="#c0c0c0" />
<rect x="1333" y="598" width="1" height="88" fill="#c0c0c0" />
<rect x="1341" y="599" width="1" height="87" fill="#c0c0c0" />
<rect x="1349" y="602" width="1" height="84" fill="#c0c0c0" />
<rect x="1357" y="607" width="1" height="79" fill="#c0c0c0" />
<rect x="1365" y="612" width="1" height="74" fill="#c0c0c0" />
<rect x="1373" y="619" width="1" height="67" fill="#c0c0c0" />
<rect x="1381" y="622" width="1" height="64" fill="#c0c0c0" />
<rect x="1389" y="624" width="1" height="62" fill="#c0c0c0" />
<rect x="1397" y="625" width="1" height="61" fill="#c0c0c0" />
<rect x="1405" y="630" width="1" height="56" fill="#c0c0c0" />
<rect x="1413" y="629" width="1" height="57" fill="#c0c0c0" />
<polyline points="-2.5,732.4 5.5,731.7 13.5,729.5 21.5,727.3 29.5,726.3 37.5,724.6 45.5,723.2 53.5,722.3 61.5,719.8 69.5,716.8 77.5,714.0 85.5,710.5 93.5,706.6 101.5,702.8 109.5,699.7 117.5,697.3 125.5,695.4 133.5,694.0 141.5,693.2 149.5,693.0 157.5,693.5 165.5,694.0 173.5,693.8 181.5,692.8 189.5,690.8 197.5,687.6 205.5,683.5 213.5,678.7 221.5,674.0 229.5,669.5 237.5,665.4 245.5,662.1 253.5,659.8 261.5,658.6 269.5,659.1 277.5,660.7 285.5,663.3 293.5,666.0 301.5,669.4 309.5,672.8 317.5,676.5 325.5,680.0 333.5,683.2 341.5,685.7 349.5,687.9 357.5,689.6 365.5,691.6 373.5,693.2 381.5,695.0 389.5,696.3 397.5,698.1 405.5,700.2 413.5,702.2 421.5,704.1 429.5,705.9 437.5,706.5 445.5,705.8 453.5,704.2 461.5,701.9 469.5,699.3 477.5,696.6 485.5,694.6 493.5,693.7 501.5,693.9 509.5,694.1 517.5,694.4 525.5,694.7 533.5,694.9 541.5,694.9 549.5,694.8 557.5,694.1 565.5,692.4 573.5,689.9 581.5,688.1 589.5,687.0 597.5,686.5 605.5,686.4 613.5,686.4 621.5,686.5 629.5,687.1 637.5,688.2 645.5,689.7 653.5,691.1 661.5,693.1 669.5,696.1 677.5,700.0 685.5,704.7 693.5,709.7 701.5,714.5 709.5,719.4 717.5,724.0 725.5,729.0 733.5,733.4 741.5,736.8 749.5,739.2 757.5,740.8 765.5,742.0 773.5,742.9 781.5,743.5 789.5,743.5 797.5,742.9 805.5,741.9 813.5,740.4 821.5,738.5 829.5,736.0 837.5,733.3 845.5,730.6 853.5,728.0 861.5,725.7 869.5,723.7 877.5,722.3 885.5,721.7 893.5,721.7 901.5,721.7 909.5,721.5 917.5,720.6 925.5,718.9 933.5,717.0 941.5,714.8 949.5,712.0 957.5,708.6 965.5,704.5 973.5,700.5 981.5,697.2 989.5,694.4 997.5,692.4 1005.5,690.7 1013.5,689.4 1021.5,688.3 1029.5,687.6 1037.5,687.3 1045.5,687.3 1053.5,687.2 1061.5,686.9 1069.5,685.8 1077.5,684.0 1085.5,681.7 1093.5,678.6 1101.5,675.4 1109.5,672.1 1117.5,668.9 1125.5,666.3 1133.5,664.6 1141.5,664.0 1149.5,664.3 1157.5,665.3 1165.5,667.7 1173.5,670.2 1181.5,672.4 1189.5,674.5 1197.5,676.0 1205.5,676.6 1213.5,676.8 1221.5,676.0 1229.5,674.2 1237.5,671.7 1245.5,668.4 1253.5,665.4 1261.5,661.8 1269.5,657.6 1277.5,652.7 1285.5,646.5 1293.5,639.8 1301.5,633.2 1309.5,625.9 1317.5,619.3 1325.5,613.0 1333.5,608.0 1341.5,603.8 1349.5,600.7 1357.5,599.4 1365.5,599.9 1373.5,601.7 1381.5,604.9 1389.5,608.4 1397.5,612.0 1405.5,615.6 1413.5,618.9" fill="none" stroke="#ff0000" stroke-width="1" stroke-dasharray="3 3"/>
</g>
<g clip-path="url(#c3)" shape-rendering="crispEdges">
<line x1="0" y1="791.5" x2="1684" y2="791.5" stroke="#c0c0c0" stroke-width="1" stroke-dasharray="3 3"/>
<line x1="0" y1="842.5" x2="1684" y2="842.5" stroke="#c0c0c0" stroke-width="1" stroke-dasharray="3 3"/>
<line x1="0" y1="903.5" x2="1684" y2="903.5" stroke="#c0c0c0" stroke-width="1" stroke-dasharray="3 3"/>
<polyline points="-2.5,855.5 5.5,853.2 13.5,861.0 21.5,863.6 29.5,862.3 37.5,848.0 45.5,844.2 53.5,847.5 61.5,842.5 69.5,838.1 77.5,832.4 85.5,829.3 93.5,843.7 101.5,848.4 109.5,849.4 117.5,851.2 125.5,852.7 133.5,851.2 141.5,845.4 149.5,852.4 157.5,846.6 165.5,843.2 173.5,829.8 181.5,820.3 189.5,812.5 197.5,809.0 205.5,806.4 213.5,807.3 221.5,822.0 229.5,835.9 237.5,832.1 245.5,838.1 253.5,834.2 261.5,841.1 269.5,848.4 277.5,842.3 285.5,843.3 293.5,843.3 301.5,860.2 309.5,859.3 317.5,862.4 325.5,844.6 333.5,848.4 341.5,845.8 349.5,844.6 357.5,844.6 365.5,855.5 373.5,864.2 381.5,865.4 389.5,860.5 397.5,866.2 405.5,866.2 413.5,854.4 421.5,851.5 429.5,845.1 437.5,832.9 445.5,828.6 453.5,828.4 461.5,824.3 469.5,848.4 477.5,846.3 485.5,860.2 493.5,869.4 501.5,870.6 509.5,838.8 517.5,835.5 525.5,832.1 533.5,836.4 541.5,839.4 549.5,842.5 557.5,841.4 565.5,844.6 573.5,842.3 581.5,844.6 589.5,843.2 597.5,846.6 605.5,840.6 613.5,845.4 621.5,853.2 629.5,857.6 637.5,862.3 645.5,863.6 653.5,848.4 661.5,868.5 669.5,875.4 677.5,880.1 685.5,881.3 693.5,876.3 701.5,878.4 709.5,881.5 717.5,878.4 725.5,883.6 733.5,870.2 741.5,872.3 749.5,875.4 757.5,877.5 765.5,877.5 773.5,878.7 781.5,880.5 789.5,871.1 797.5,871.4 805.5,862.4 813.5,862.4 821.5,852.4 829.5,853.6 837.5,858.4 845.5,869.4 853.5,875.3 861.5,861.0 869.5,865.0 877.5,870.2 885.5,876.3 893.5,876.3 901.5,849.4 909.5,845.8 917.5,842.3 925.5,836.4 933.5,847.5 941.5,844.0 949.5,840.2 957.5,831.9 965.5,828.4 973.5,834.5 981.5,843.3 989.5,839.4 997.5,851.5 1005.5,848.5 1013.5,850.6 1021.5,842.3 1029.5,846.3 1037.5,838.5 1045.5,840.6 1053.5,832.9 1061.5,831.0 1069.5,818.6 1077.5,815.6 1085.5,814.2 1093.5,804.7 1101.5,820.3 1109.5,822.4 1117.5,824.1 1125.5,843.7 1133.5,849.4 1141.5,849.4 1149.5,843.3 1157.5,844.8 1165.5,850.6 1173.5,838.1 1181.5,826.4 1189.5,834.5 1197.5,832.1 1205.5,832.1 1213.5,836.2 1221.5,815.6 1229.5,812.1 1237.5,816.3 1245.5,810.4 1253.5,816.5 1261.5,804.3 1269.5,804.3 1277.5,798.6 1285.5,790.3 1293.5,787.9 1301.5,791.3 1309.5,786.5 1317.5,809.4 1325.5,808.1 1333.5,820.3 1341.5,814.6 1349.5,814.2 1357.5,820.0 1365.5,827.0 1373.5,831.6 1381.5,823.8 1389.5,821.2 1397.5,820.3 1405.5,835.9 1413.5,820.2" fill="none" stroke="#1e90ff" stroke-width="1" />
</g>
<g shape-rendering="crispEdges">
<line x1="1325.2" y1="590.9" x2="1414.4" y2="638.2" stroke="#ff0000" stroke-width="3.6"/>
<polygon points="1422.8,642.6 1410.5,641.3 1414.8,633.2" fill="#ff0000"/>
<line x1="1309.2" y1="786.8" x2="1368.6" y2="829.0" stroke="#ff0000" stroke-width="3.6"/>
<polygon points="1376.3,834.5 1364.3,831.6 1369.6,824.1" fill="#ff0000"/>
<line x1="1376.3" y1="834.5" x2="1408.4" y2="831.3" stroke="#ff0000" stroke-width="3.6"/>
<polygon points="1417.9,830.3 1406.9,836.0 1406.0,826.9" fill="#ff0000"/>
</g>
<defs><linearGradient id="gb" x1="0" y1="0" x2="0" y2="1"><stop offset="0" stop-color="#5050f0"/><stop offset="1" stop-color="#3c3ce0"/></linearGradient><linearGradient id="gp" x1="0" y1="0" x2="0" y2="1"><stop offset="0" stop-color="#3c3ce0"/><stop offset="0.55" stop-color="#1818c0"/><stop offset="1" stop-color="#0000a0"/></linearGradient><linearGradient id="gg" x1="0" y1="0" x2="0" y2="1"><stop offset="0" stop-color="#f4f4f4"/><stop offset="1" stop-color="#d4d4d4"/></linearGradient></defs>
<rect x="0" y="46" width="221" height="68" fill="#fff"/>
<rect x="0" y="48" width="51.5" height="25" fill="url(#gb)"/>
<rect x="167.5" y="48" width="51.5" height="25" fill="url(#gb)"/>
<rect x="0" y="72.5" width="109" height="39.5" fill="url(#gp)"/>
<rect x="111" y="72.5" width="108" height="39.5" fill="url(#gp)"/>
<rect x="4" y="71" width="44" height="1" fill="#8c8cf8"/>
<rect x="171" y="71" width="44" height="1" fill="#8c8cf8"/>
<text x="12.5" y="63.5" font-size="11.6" fill="#fff" font-family="Liberation Sans, sans-serif" textLength="25.2" lengthAdjust="spacingAndGlyphs">SELL</text>
<text x="192.5" y="63.6" font-size="11.5" text-anchor="middle" fill="#fff" font-family="Liberation Sans, sans-serif">BUY</text>
<rect x="54.5" y="48.5" width="110.5" height="21" fill="#fff" stroke="#b8b8b8" stroke-width="1"/>
<rect x="55.5" y="49.5" width="19.5" height="19" fill="url(#gg)" stroke="#c8c8c8" stroke-width="0.6"/>
<rect x="144" y="49.5" width="20" height="19" fill="url(#gg)" stroke="#c8c8c8" stroke-width="0.6"/>
<polygon points="62,57.5 67,57.5 64.5,60.3" fill="#5868b8"/>
<polygon points="151,60 156,60 153.5,57.2" fill="#5868b8"/>
<text x="139.5" y="62.8" font-size="11.5" text-anchor="end" fill="#000" font-family="Liberation Sans, sans-serif">1.00</text>
<text x="20" y="102.3" font-size="10.6" font-weight="bold" fill="#fff" font-family="Liberation Sans, sans-serif" textLength="23.6" lengthAdjust="spacingAndGlyphs">0.93</text>
<text x="48.3" y="103" font-size="33" fill="#fff" font-family="Liberation Sans, sans-serif" textLength="34.5" lengthAdjust="spacingAndGlyphs">39</text>
<text x="87" y="86.7" font-size="10.6" font-weight="bold" fill="#fff" font-family="Liberation Sans, sans-serif" textLength="7" lengthAdjust="spacingAndGlyphs">0</text>
<text x="130.3" y="102.3" font-size="10.6" font-weight="bold" fill="#fff" font-family="Liberation Sans, sans-serif" textLength="23.6" lengthAdjust="spacingAndGlyphs">0.93</text>
<text x="157" y="103" font-size="33" fill="#fff" font-family="Liberation Sans, sans-serif" textLength="36.5" lengthAdjust="spacingAndGlyphs">41</text>
<text x="198.2" y="86.7" font-size="10.6" font-weight="bold" fill="#fff" font-family="Liberation Sans, sans-serif" textLength="7" lengthAdjust="spacingAndGlyphs">4</text>
<rect x="0" y="0" width="1731" height="26" fill="#f0f0f0"/>
<rect x="0" y="23" width="1731" height="1" fill="#e3e3e3"/>
<rect x="0" y="24" width="1731" height="1" fill="#a0a0a0"/>
<rect x="0" y="25" width="1731" height="1" fill="#696969"/>
<rect x="0" y="26" width="1731" height="2" fill="#ffffff"/>
<rect x="-3" y="5.5" width="10.5" height="12.5" fill="#fff" stroke="#3a78d0" stroke-width="1.2"/>
<path d="M0 9.5 H6 M0 12 H6 M0 14.5 H6" stroke="#b8c8ee" stroke-width="0.8"/>
<rect x="0" y="8.5" width="2" height="1.2" fill="#222"/>
<rect x="20.5" y="4.5" width="12" height="13" fill="#f4f4f0" stroke="#b0a890" stroke-width="1"/>
<path d="M24 6 V13 M29 6 V12 M22.5 9 H25 M27.5 8 H30.5" stroke="#8090a8" stroke-width="1"/>
<circle cx="28" cy="12.5" r="4.3" fill="#cfe4fa" fill-opacity="0.85" stroke="#7aa7e0" stroke-width="1.2"/>
<path d="M31.5 16 L36.5 20.5" stroke="#c8961e" stroke-width="2.2" stroke-linecap="round"/>
<rect x="45" y="1" width="1" height="21" fill="#a0a0a0"/>
<path d="M55.5 4.5 H63 L66.5 8 V17.5 H55.5 Z" fill="#fdfdfd" stroke="#808080" stroke-width="1"/>
<path d="M63 4.5 V8 H66.5" fill="#e0e0e0" stroke="#808080" stroke-width="0.8"/>
<path d="M57.5 7.5 H60.5 M57.5 10 H62 M57.5 12.5 H61" stroke="#909090" stroke-width="1"/>
<path d="M63.5 10.5 H66.8 V14.2 H70.5 V17.6 H66.8 V21.3 H63.5 V17.6 H59.8 V14.2 H63.5 Z" fill="#22c022" stroke="#0a8a0a" stroke-width="0.8"/>
<text x="73.8" y="15.5" font-size="11.8" fill="#000" textLength="35.4" lengthAdjust="spacingAndGlyphs" style="font-family:'Liberation Sans','Noto Sans CJK SC',sans-serif">新订单</text>
<defs><linearGradient id="gbk" x1="0" y1="0" x2="1" y2="1"><stop offset="0" stop-color="#fff0a0"/><stop offset="0.35" stop-color="#f4cc38"/><stop offset="1" stop-color="#b87c08"/></linearGradient><linearGradient id="gcl" x1="0" y1="0" x2="0" y2="1"><stop offset="0" stop-color="#ffffff"/><stop offset="1" stop-color="#c8d4ec"/></linearGradient><linearGradient id="gsg" x1="0" y1="0" x2="0" y2="1"><stop offset="0" stop-color="#c4e4c4"/><stop offset="1" stop-color="#38a038"/></linearGradient></defs>
<path d="M126.9 5.4 L128.4 5.2 L137.8 12.6 L130.4 19.9 L121.8 14.2 Z" fill="url(#gbk)" stroke="#a8740c" stroke-width="0.8"/>
<path d="M131.2 18.2 L137 12.8 M130.6 17.4 L136.4 12.2" stroke="#8a5c08" stroke-width="0.6" fill="none"/>
<path d="M122.6 14.6 L130.4 19.6" stroke="#9a6808" stroke-width="1.2"/>
<path d="M152 4.6 L155.6 6.6 L155.6 14.4 L152 12.4 Z" fill="#7cc4f8" stroke="#1870d0" stroke-width="0.6"/>
<path d="M152 4.6 L159.5 4.2 L163.2 6.4 L155.6 6.6 Z" fill="#48a8f4" stroke="#1870d0" stroke-width="0.6"/>
<rect x="155.6" y="6.6" width="7.6" height="7.8" fill="#1c84e8" stroke="#1060c0" stroke-width="0.6"/>
<path d="M157.5 9 H161.8 M157.5 10.6 H161.8" stroke="#d8ecff" stroke-width="0.9"/>
<path d="M152.6 19.7 C149.4 19.7 149.4 15.6 152.6 15.6 C152.8 13 156.6 12 158.4 14.2 C160.6 12.4 164 13.6 163.6 16 C166.4 16.2 166.2 19.7 163.4 19.7 Z" fill="url(#gcl)" stroke="#5070a8" stroke-width="0.9"/>
<path d="M185.8 4 A7.6 7.6 0 0 1 185.8 19.2 Z" fill="url(#gsg)" fill-opacity="0.95"/>
<circle cx="185.8" cy="11.5" r="7.5" fill="none" stroke="#9cb4dc" stroke-width="0.9" stroke-opacity="0.8"/>
<circle cx="185.8" cy="11.5" r="5.3" fill="none" stroke="#6c90d8" stroke-width="1" stroke-opacity="0.9"/>
<circle cx="185.8" cy="11.5" r="3.1" fill="none" stroke="#4070d0" stroke-width="1.1"/>
<circle cx="185.8" cy="11.3" r="1.6" fill="#2858d0"/>
<path d="M186.6 12 V19.4" stroke="#28a828" stroke-width="1.8"/>
<path d="M205.6 10.3 L220.7 10.3 L213.6 19.5 L211.6 19.5 Z" fill="#f8dc58" stroke="#c8a020" stroke-width="0.7"/>
<path d="M209 8.4 C209 2.8 216.8 2.8 216.8 8.4 Z" fill="#6cb8e8" stroke="#2c80b8" stroke-width="0.7"/>
<path d="M204.9 8.4 C207 5.8 219 5.8 221.1 8.4 C219 11.4 207 11.4 204.9 8.4 Z" fill="#58a8dc" stroke="#2c80b8" stroke-width="0.7"/>
<path d="M209 7.6 C211 9 215 9 216.8 7.6 C216.8 4 209 4 209 7.6 Z" fill="#7cc4f0"/>
<circle cx="217.4" cy="15.8" r="4.1" fill="#dc2418"/>
<circle cx="217.4" cy="14.8" r="3" fill="#f05040" fill-opacity="0.5"/>
<rect x="215.9" y="14.3" width="3" height="3" fill="#fff"/>
<text x="227.5" y="15.5" font-size="11.4" fill="#000" textLength="45.5" lengthAdjust="spacingAndGlyphs" style="font-family:'Liberation Sans','Noto Sans CJK SC',sans-serif">自动交易</text>
<rect x="281" y="1" width="1" height="21" fill="#a0a0a0"/>
<rect x="285" y="3" width="3" height="1" fill="#b0b0b0"/>
<rect x="285" y="5" width="3" height="1" fill="#b0b0b0"/>
<rect x="285" y="7" width="3" height="1" fill="#b0b0b0"/>
<rect x="285" y="9" width="3" height="1" fill="#b0b0b0"/>
<rect x="285" y="11" width="3" height="1" fill="#b0b0b0"/>
<rect x="285" y="13" width="3" height="1" fill="#b0b0b0"/>
<rect x="285" y="15" width="3" height="1" fill="#b0b0b0"/>
<rect x="285" y="17" width="3" height="1" fill="#b0b0b0"/>
<rect x="285" y="19" width="3" height="1" fill="#b0b0b0"/>
<path d="M299.5 6 V20 M297 17.7 H311" stroke="#505050" stroke-width="1.1" fill="none"/>
<path d="M297.7 8 L299.5 5.5 L301.3 8 M309 16 L311.5 17.7 L309 19.4" stroke="#505050" stroke-width="1" fill="none"/>
<path d="M305.8 7.5 V15.5 M305.8 8.2 H308.5 M303 14.8 H305.8" stroke="#189018" stroke-width="1.4" fill="none"/>
<rect x="319" y="0" width="25" height="22" fill="#f8f8f8"/>
<rect x="319" y="0" width="25" height="1" fill="#a0a0a0"/>
<rect x="319" y="0" width="1" height="22" fill="#a0a0a0"/>
<rect x="343" y="0" width="1" height="22" fill="#ffffff"/>
<rect x="319" y="22" width="25" height="1" fill="#ffffff"/>
<path d="M327.5 6 V20 M325 17.7 H339" stroke="#505050" stroke-width="1.1" fill="none"/>
<path d="M325.7 8 L327.5 5.5 L329.3 8 M337 16 L339.5 17.7 L337 19.4" stroke="#505050" stroke-width="1" fill="none"/>
<path d="M333.5 4 V16" stroke="#109010" stroke-width="1.2"/>
<rect x="331.3" y="6.3" width="4.4" height="7.6" fill="#30e030" stroke="#109010" stroke-width="0.9"/>
<path d="M355.5 6 V20 M353 17.7 H367" stroke="#505050" stroke-width="1.1" fill="none"/>
<path d="M353.7 8 L355.5 5.5 L357.3 8 M365 16 L367.5 17.7 L365 19.4" stroke="#505050" stroke-width="1" fill="none"/>
<path d="M354 14.5 C357 12.5 358.5 9 360.5 9.2 C362.5 9.5 364 12.5 366 13" stroke="#30a030" stroke-width="1.2" fill="none"/>
<rect x="376" y="1" width="1" height="21" fill="#a0a0a0"/>
<path d="M394.6 14 L400.1 19" stroke="#d0a820" stroke-width="2.6" stroke-linecap="round"/>
<circle cx="390.6" cy="10" r="5.6" fill="#d8ecfc" stroke="#3878d0" stroke-width="1.3"/>
<path d="M387.6 10 H393.6" stroke="#3080b0" stroke-width="1.8"/>
<path d="M390.6 7 V13" stroke="#3080b0" stroke-width="1.8"/>
<path d="M422.6 14 L428.1 19" stroke="#d0a820" stroke-width="2.6" stroke-linecap="round"/>
<circle cx="418.6" cy="10" r="5.6" fill="#d8ecfc" stroke="#3878d0" stroke-width="1.3"/>
<path d="M415.6 10 H421.6" stroke="#3080b0" stroke-width="1.8"/>
<rect x="441" y="4" width="7.7" height="7.6" fill="#40a020"/>
<rect x="442.3" y="7" width="5.2" height="3.4" fill="#f0f4ff"/>
<rect x="443.2" y="8.4" width="3.4" height="0.9" fill="#40a020"/>
<rect x="449.3" y="4" width="7.7" height="7.6" fill="#2858d0"/>
<rect x="450.6" y="7" width="5.2" height="3.4" fill="#f0f4ff"/>
<rect x="451.5" y="8.4" width="3.4" height="0.9" fill="#2858d0"/>
<rect x="441" y="12.2" width="7.7" height="7.6" fill="#2858d0"/>
<rect x="442.3" y="15.2" width="5.2" height="3.4" fill="#f0f4ff"/>
<rect x="443.2" y="16.6" width="3.4" height="0.9" fill="#2858d0"/>
<rect x="449.3" y="12.2" width="7.7" height="7.6" fill="#40a020"/>
<rect x="450.6" y="15.2" width="5.2" height="3.4" fill="#f0f4ff"/>
<rect x="451.5" y="16.6" width="3.4" height="0.9" fill="#40a020"/>
<rect x="466" y="1" width="1" height="21" fill="#a0a0a0"/>
<rect x="471" y="0" width="25" height="22" fill="#f8f8f8"/>
<rect x="471" y="0" width="25" height="1" fill="#a0a0a0"/>
<rect x="471" y="0" width="1" height="22" fill="#a0a0a0"/>
<rect x="495" y="0" width="1" height="22" fill="#ffffff"/>
<rect x="471" y="22" width="25" height="1" fill="#ffffff"/>
<path d="M479.5 6 V20 M477 17.7 H491" stroke="#505050" stroke-width="1.1" fill="none"/>
<path d="M477.7 8 L479.5 5.5 L481.3 8 M489 16 L491.5 17.7 L489 19.4" stroke="#505050" stroke-width="1" fill="none"/>
<path d="M484.3 8 L488 11.5 L484.3 15 Z" fill="#90e890" stroke="#189818" stroke-width="1"/>
<rect x="499" y="0" width="25" height="22" fill="#f8f8f8"/>
<rect x="499" y="0" width="25" height="1" fill="#a0a0a0"/>
<rect x="499" y="0" width="1" height="22" fill="#a0a0a0"/>
<rect x="523" y="0" width="1" height="22" fill="#ffffff"/>
<rect x="499" y="22" width="25" height="1" fill="#ffffff"/>
<path d="M507.5 6 V20 M505 17.7 H519" stroke="#505050" stroke-width="1.1" fill="none"/>
<path d="M505.7 8 L507.5 5.5 L509.3 8 M517 16 L519.5 17.7 L517 19.4" stroke="#505050" stroke-width="1" fill="none"/>
<path d="M513.5 6 V16" stroke="#2070c0" stroke-width="1.2"/>
<path d="M519 11.5 H515 M516.8 9.5 L514.6 11.5 L516.8 13.5" stroke="#e04808" stroke-width="1.2" fill="none"/>
<rect x="528" y="1" width="1" height="21" fill="#a0a0a0"/>
<path d="M538.5 4.5 H546 L549.5 8 V17.5 H538.5 Z" fill="#fdfdfd" stroke="#808080" stroke-width="1"/>
<path d="M546 4.5 V8 H549.5" fill="#e0e0e0" stroke="#808080" stroke-width="0.8"/>
<path d="M541.5 8 C540.5 9 540.5 13 541.5 14" stroke="#707070" stroke-width="1" fill="none"/>
<path d="M546.5 10.5 H549.8 V14.2 H553.5 V17.6 H549.8 V21.3 H546.5 V17.6 H542.8 V14.2 H546.5 Z" fill="#22c022" stroke="#0a8a0a" stroke-width="0.8"/>
<polygon points="559.5,11 565.0,11 562.25,14" fill="#000"/>
<circle cx="584" cy="11.7" r="7.2" fill="#fbfbfb" stroke="#1868c8" stroke-width="2.2"/>
<path d="M584 7 V12 H587" stroke="#303030" stroke-width="1.1" fill="none"/>
<polygon points="598.8,11 604.3,11 601.55,14" fill="#000"/>
<rect x="615.5" y="5.5" width="15" height="12.5" fill="#fff" stroke="#2868c8" stroke-width="1.2"/>
<rect x="615" y="5" width="16" height="2" fill="#4890e0"/>
<path d="M615.5 12 H630.5" stroke="#4890e0" stroke-width="1"/>
<path d="M617.5 10.5 L620 9.5 L622 9 L624 10 L626 9.5 L629 8.8" stroke="#b02010" stroke-width="1.2" fill="none"/>
<path d="M618 16 L620.5 15 L622.5 15.8 L625.5 14 L627 15 L629 16" stroke="#109010" stroke-width="1.2" fill="none"/>
<polygon points="637.8,11 643.3,11 640.55,14" fill="#000"/>
<rect x="649" y="0" width="1" height="24" fill="#a0a0a0"/>
<rect x="653" y="3" width="3" height="1" fill="#b0b0b0"/>
<rect x="653" y="5" width="3" height="1" fill="#b0b0b0"/>
<rect x="653" y="7" width="3" height="1" fill="#b0b0b0"/>
<rect x="653" y="9" width="3" height="1" fill="#b0b0b0"/>
<rect x="653" y="11" width="3" height="1" fill="#b0b0b0"/>
<rect x="653" y="13" width="3" height="1" fill="#b0b0b0"/>
<rect x="653" y="15" width="3" height="1" fill="#b0b0b0"/>
<rect x="653" y="17" width="3" height="1" fill="#b0b0b0"/>
<rect x="653" y="19" width="3" height="1" fill="#b0b0b0"/>
<rect x="659" y="0" width="25" height="22" fill="#f8f8f8"/>
<rect x="659" y="0" width="25" height="1" fill="#a0a0a0"/>
<rect x="659" y="0" width="1" height="22" fill="#a0a0a0"/>
<rect x="683" y="0" width="1" height="22" fill="#ffffff"/>
<rect x="659" y="22" width="25" height="1" fill="#ffffff"/>
<path d="M667.3 5 V17.5 L670.3 14.8 L672.6 19 L674.4 18 L672.2 14 L676 13.6 Z" fill="#505050"/>
<path d="M692 12.4 H707 M699.6 5 V20" stroke="#404040" stroke-width="1.1"/>
<rect x="716" y="1" width="1" height="21" fill="#a0a0a0"/>
<path d="M733.5 6 V19" stroke="#404040" stroke-width="1.1"/>
<path d="M756 12.5 H768" stroke="#404040" stroke-width="1.1"/>
<path d="M784 19 L796 7" stroke="#404040" stroke-width="1.1"/>
<path d="M810 14 L823 5.5 M811 18.5 L824 10 M813.5 12 L812.5 18 M817 9.5 L816 15.5 M820.5 7 L819.5 13.5" stroke="#404040" stroke-width="1"/>
<text x="820.8" y="21" font-size="6.5" font-weight="bold" fill="#303030" font-family="Liberation Sans, sans-serif">E</text>
<path d="M839 5.5 H852" stroke="#404040" stroke-width="1" stroke-dasharray="1 1"/>
<path d="M839 9.5 H852" stroke="#404040" stroke-width="1" stroke-dasharray="1 1"/>
<path d="M839 13.5 H852" stroke="#404040" stroke-width="1" stroke-dasharray="1 1"/>
<path d="M839 17.5 H847" stroke="#404040" stroke-width="1" stroke-dasharray="1 1"/>
<text x="848.6" y="21" font-size="6.5" font-weight="bold" fill="#303030" font-family="Liberation Sans, sans-serif">F</text>
<text x="869.5" y="17" font-size="12.5" fill="#484848" font-family="Liberation Sans, sans-serif">A</text>
<rect x="896.5" y="6.5" width="11" height="12" fill="none" stroke="#404040" stroke-width="1" stroke-dasharray="1 1"/>
<text x="898" y="17" font-size="12" font-weight="bold" fill="#484848" font-family="Liberation Sans, sans-serif">T</text>
<path d="M923.5 9.5 L926.5 6.3 L929.5 9.5 Z M930.5 15 L933.5 18.5 L936.8 15 Z" fill="#404040"/>
<path d="M926 12.5 L928 14.5 L931.5 10" stroke="#404040" stroke-width="1.3" fill="none"/>
<polygon points="944,11 949.5,11 946.75,14" fill="#000"/>
<rect x="955" y="1" width="1" height="21" fill="#a0a0a0"/>
<rect x="959" y="3" width="3" height="1" fill="#b0b0b0"/>
<rect x="959" y="5" width="3" height="1" fill="#b0b0b0"/>
<rect x="959" y="7" width="3" height="1" fill="#b0b0b0"/>
<rect x="959" y="9" width="3" height="1" fill="#b0b0b0"/>
<rect x="959" y="11" width="3" height="1" fill="#b0b0b0"/>
<rect x="959" y="13" width="3" height="1" fill="#b0b0b0"/>
<rect x="959" y="15" width="3" height="1" fill="#b0b0b0"/>
<rect x="959" y="17" width="3" height="1" fill="#b0b0b0"/>
<rect x="959" y="19" width="3" height="1" fill="#b0b0b0"/>
<rect x="1133" y="0" width="25" height="22" fill="#f8f8f8"/>
<rect x="1133" y="0" width="25" height="1" fill="#a0a0a0"/>
<rect x="1133" y="0" width="1" height="22" fill="#a0a0a0"/>
<rect x="1157" y="0" width="1" height="22" fill="#ffffff"/>
<rect x="1133" y="22" width="25" height="1" fill="#ffffff"/>
<text x="976.7" y="16" font-size="9.3" text-anchor="middle" fill="#333" font-family="Liberation Sans, sans-serif">M1</text>
<text x="1004.8" y="16" font-size="9.3" text-anchor="middle" fill="#333" font-family="Liberation Sans, sans-serif">M5</text>
<text x="1033.3" y="16" font-size="9.3" text-anchor="middle" fill="#333" font-family="Liberation Sans, sans-serif">M15</text>
<text x="1061.3" y="16" font-size="9.3" text-anchor="middle" fill="#333" font-family="Liberation Sans, sans-serif">M30</text>
<text x="1089.3" y="16" font-size="9.3" text-anchor="middle" fill="#333" font-family="Liberation Sans, sans-serif">H1</text>
<text x="1116.8" y="16" font-size="9.3" text-anchor="middle" fill="#333" font-family="Liberation Sans, sans-serif">H4</text>
<text x="1145.3" y="16" font-size="9.3" text-anchor="middle" fill="#333" font-family="Liberation Sans, sans-serif">D1</text>
<text x="1174" y="16" font-size="9.3" text-anchor="middle" fill="#333" font-family="Liberation Sans, sans-serif">W1</text>
<text x="1200.9" y="16" font-size="9.3" text-anchor="middle" fill="#333" font-family="Liberation Sans, sans-serif">MN</text>
<rect x="1216" y="1" width="1" height="21" fill="#a0a0a0"/>
<circle cx="1686.5" cy="9.3" r="3.7" fill="#f8f8ff" stroke="#2858c8" stroke-width="1.3"/>
<path d="M1683.8 12.3 L1679.3 16.8" stroke="#2858c8" stroke-width="2.2" stroke-linecap="round"/>
<path d="M1703.5 14 C1703.5 10.5 1707 9 1710 9 C1714 9 1716 11.5 1716 14 C1716 16.5 1713.5 18.5 1710 18.5 L1707 20.5 L1707.5 18.2 C1705 17.5 1703.5 16 1703.5 14 Z" fill="#f4f4f4" stroke="#c0c0c0" stroke-width="0.9"/>
<circle cx="1717.6" cy="9.5" r="8.3" fill="#d83a20"/>
<circle cx="1717.6" cy="8" r="6.5" fill="#e85030" fill-opacity="0.5"/>
<text x="1717.3" y="14" font-size="12.5" text-anchor="middle" fill="#fff" font-family="Liberation Sans, sans-serif">1</text>
</svg>
</body></html>
